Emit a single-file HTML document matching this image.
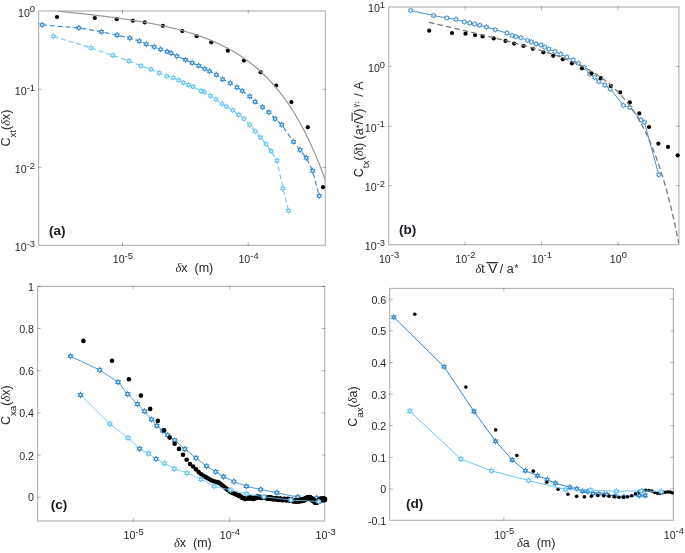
<!DOCTYPE html>
<html><head><meta charset="utf-8"><title>figure</title>
<style>html,body{margin:0;padding:0;background:#fff}svg{display:block}svg{will-change:transform}text{font-family:"Liberation Sans",sans-serif}</style>
</head><body>
<svg width="685" height="553" viewBox="0 0 685 553" font-family="Liberation Sans, sans-serif">
<rect width="685" height="553" fill="#fff"/>
<rect x="38.6" y="10.95" width="286.70" height="234.35" fill="none" stroke="#000" stroke-opacity="0.31" stroke-width="1.1"/>
<path d="M122.5 245.85000000000002 v-3.75M122.5 10.399999999999999 v3.75M248.2 245.85000000000002 v-3.75M248.2 10.399999999999999 v3.75M38.050000000000004 89.3 h3.75M325.85 89.3 h-3.75M38.050000000000004 167.4 h3.75M325.85 167.4 h-3.75" stroke="#000" stroke-opacity="0.27" stroke-width="1" fill="none"/>
<clipPath id="ca"><rect x="38.6" y="10.95" width="286.7" height="234.35000000000002"/></clipPath>
<path d="M53.40 36.40 L91.00 47.90 L112.90 55.40 L129.00 61.00 L140.90 65.80 L151.00 69.40 L159.10 72.80 L166.70 76.30 L173.10 77.70 L178.70 80.10 L183.40 82.70 L188.50 84.80 L193.00 86.70 L201.00 90.80 L204.20 92.00 L210.40 95.80 L215.90 99.40 L222.00 103.80 L226.40 106.40 L232.80 110.40 L238.70 114.70 L244.00 118.80 L249.70 124.70 L255.20 131.30 L260.50 137.50 L266.00 144.10 L271.00 151.00 L277.00 160.50 L282.90 188.30 L288.40 210.70" fill="none" stroke="#6cc6f2" stroke-width="1.1" stroke-dasharray="5 2.9" />
<path d="M42.00 24.90 L78.80 27.90 L101.40 31.70 L117.20 35.20 L129.80 38.10 L139.30 41.10 L146.30 44.20 L154.20 46.80 L160.60 49.40 L167.00 51.60 L171.10 53.10 L176.90 56.10 L185.40 59.80 L192.10 62.80 L198.70 65.70 L204.80 68.90 L209.50 71.10 L216.30 74.70 L222.60 79.30 L230.20 83.10 L236.90 87.30 L242.10 90.80 L249.70 96.30 L255.00 101.70 L262.50 107.10 L268.90 112.30 L275.10 118.80 L281.80 124.70 L293.40 141.70 L300.10 149.90 L306.30 157.80 L312.60 170.70 L319.10 195.80" fill="none" stroke="#3487c9" stroke-width="1.1" stroke-dasharray="5 2.9" />
<path d="M53.40 34.10 L54.05 35.27 L55.39 35.25 L54.70 36.40 L55.39 37.55 L54.05 37.53 L53.40 38.70 L52.75 37.53 L51.41 37.55 L52.10 36.40 L51.41 35.25 L52.75 35.27ZM91.00 45.60 L91.65 46.77 L92.99 46.75 L92.30 47.90 L92.99 49.05 L91.65 49.03 L91.00 50.20 L90.35 49.03 L89.01 49.05 L89.70 47.90 L89.01 46.75 L90.35 46.77ZM112.90 53.10 L113.55 54.27 L114.89 54.25 L114.20 55.40 L114.89 56.55 L113.55 56.53 L112.90 57.70 L112.25 56.53 L110.91 56.55 L111.60 55.40 L110.91 54.25 L112.25 54.27ZM129.00 58.70 L129.65 59.87 L130.99 59.85 L130.30 61.00 L130.99 62.15 L129.65 62.13 L129.00 63.30 L128.35 62.13 L127.01 62.15 L127.70 61.00 L127.01 59.85 L128.35 59.87ZM140.90 63.50 L141.55 64.67 L142.89 64.65 L142.20 65.80 L142.89 66.95 L141.55 66.93 L140.90 68.10 L140.25 66.93 L138.91 66.95 L139.60 65.80 L138.91 64.65 L140.25 64.67ZM151.00 67.10 L151.65 68.27 L152.99 68.25 L152.30 69.40 L152.99 70.55 L151.65 70.53 L151.00 71.70 L150.35 70.53 L149.01 70.55 L149.70 69.40 L149.01 68.25 L150.35 68.27ZM159.10 70.50 L159.75 71.67 L161.09 71.65 L160.40 72.80 L161.09 73.95 L159.75 73.93 L159.10 75.10 L158.45 73.93 L157.11 73.95 L157.80 72.80 L157.11 71.65 L158.45 71.67ZM166.70 74.00 L167.35 75.17 L168.69 75.15 L168.00 76.30 L168.69 77.45 L167.35 77.43 L166.70 78.60 L166.05 77.43 L164.71 77.45 L165.40 76.30 L164.71 75.15 L166.05 75.17ZM173.10 75.40 L173.75 76.57 L175.09 76.55 L174.40 77.70 L175.09 78.85 L173.75 78.83 L173.10 80.00 L172.45 78.83 L171.11 78.85 L171.80 77.70 L171.11 76.55 L172.45 76.57ZM178.70 77.80 L179.35 78.97 L180.69 78.95 L180.00 80.10 L180.69 81.25 L179.35 81.23 L178.70 82.40 L178.05 81.23 L176.71 81.25 L177.40 80.10 L176.71 78.95 L178.05 78.97ZM183.40 80.40 L184.05 81.57 L185.39 81.55 L184.70 82.70 L185.39 83.85 L184.05 83.83 L183.40 85.00 L182.75 83.83 L181.41 83.85 L182.10 82.70 L181.41 81.55 L182.75 81.57ZM188.50 82.50 L189.15 83.67 L190.49 83.65 L189.80 84.80 L190.49 85.95 L189.15 85.93 L188.50 87.10 L187.85 85.93 L186.51 85.95 L187.20 84.80 L186.51 83.65 L187.85 83.67ZM193.00 84.40 L193.65 85.57 L194.99 85.55 L194.30 86.70 L194.99 87.85 L193.65 87.83 L193.00 89.00 L192.35 87.83 L191.01 87.85 L191.70 86.70 L191.01 85.55 L192.35 85.57ZM201.00 88.50 L201.65 89.67 L202.99 89.65 L202.30 90.80 L202.99 91.95 L201.65 91.93 L201.00 93.10 L200.35 91.93 L199.01 91.95 L199.70 90.80 L199.01 89.65 L200.35 89.67ZM204.20 89.70 L204.85 90.87 L206.19 90.85 L205.50 92.00 L206.19 93.15 L204.85 93.13 L204.20 94.30 L203.55 93.13 L202.21 93.15 L202.90 92.00 L202.21 90.85 L203.55 90.87ZM210.40 93.50 L211.05 94.67 L212.39 94.65 L211.70 95.80 L212.39 96.95 L211.05 96.93 L210.40 98.10 L209.75 96.93 L208.41 96.95 L209.10 95.80 L208.41 94.65 L209.75 94.67ZM215.90 97.10 L216.55 98.27 L217.89 98.25 L217.20 99.40 L217.89 100.55 L216.55 100.53 L215.90 101.70 L215.25 100.53 L213.91 100.55 L214.60 99.40 L213.91 98.25 L215.25 98.27ZM222.00 101.50 L222.65 102.67 L223.99 102.65 L223.30 103.80 L223.99 104.95 L222.65 104.93 L222.00 106.10 L221.35 104.93 L220.01 104.95 L220.70 103.80 L220.01 102.65 L221.35 102.67ZM226.40 104.10 L227.05 105.27 L228.39 105.25 L227.70 106.40 L228.39 107.55 L227.05 107.53 L226.40 108.70 L225.75 107.53 L224.41 107.55 L225.10 106.40 L224.41 105.25 L225.75 105.27ZM232.80 108.10 L233.45 109.27 L234.79 109.25 L234.10 110.40 L234.79 111.55 L233.45 111.53 L232.80 112.70 L232.15 111.53 L230.81 111.55 L231.50 110.40 L230.81 109.25 L232.15 109.27ZM238.70 112.40 L239.35 113.57 L240.69 113.55 L240.00 114.70 L240.69 115.85 L239.35 115.83 L238.70 117.00 L238.05 115.83 L236.71 115.85 L237.40 114.70 L236.71 113.55 L238.05 113.57ZM244.00 116.50 L244.65 117.67 L245.99 117.65 L245.30 118.80 L245.99 119.95 L244.65 119.93 L244.00 121.10 L243.35 119.93 L242.01 119.95 L242.70 118.80 L242.01 117.65 L243.35 117.67ZM249.70 122.40 L250.35 123.57 L251.69 123.55 L251.00 124.70 L251.69 125.85 L250.35 125.83 L249.70 127.00 L249.05 125.83 L247.71 125.85 L248.40 124.70 L247.71 123.55 L249.05 123.57ZM255.20 129.00 L255.85 130.17 L257.19 130.15 L256.50 131.30 L257.19 132.45 L255.85 132.43 L255.20 133.60 L254.55 132.43 L253.21 132.45 L253.90 131.30 L253.21 130.15 L254.55 130.17ZM260.50 135.20 L261.15 136.37 L262.49 136.35 L261.80 137.50 L262.49 138.65 L261.15 138.63 L260.50 139.80 L259.85 138.63 L258.51 138.65 L259.20 137.50 L258.51 136.35 L259.85 136.37ZM266.00 141.80 L266.65 142.97 L267.99 142.95 L267.30 144.10 L267.99 145.25 L266.65 145.23 L266.00 146.40 L265.35 145.23 L264.01 145.25 L264.70 144.10 L264.01 142.95 L265.35 142.97ZM271.00 148.70 L271.65 149.87 L272.99 149.85 L272.30 151.00 L272.99 152.15 L271.65 152.13 L271.00 153.30 L270.35 152.13 L269.01 152.15 L269.70 151.00 L269.01 149.85 L270.35 149.87ZM277.00 158.20 L277.65 159.37 L278.99 159.35 L278.30 160.50 L278.99 161.65 L277.65 161.63 L277.00 162.80 L276.35 161.63 L275.01 161.65 L275.70 160.50 L275.01 159.35 L276.35 159.37ZM282.90 186.00 L283.55 187.17 L284.89 187.15 L284.20 188.30 L284.89 189.45 L283.55 189.43 L282.90 190.60 L282.25 189.43 L280.91 189.45 L281.60 188.30 L280.91 187.15 L282.25 187.17ZM288.40 208.40 L289.05 209.57 L290.39 209.55 L289.70 210.70 L290.39 211.85 L289.05 211.83 L288.40 213.00 L287.75 211.83 L286.41 211.85 L287.10 210.70 L286.41 209.55 L287.75 209.57Z" fill="#fff" stroke="#6cc6f2" stroke-width="1.05" stroke-linejoin="miter"/>
<path d="M42.00 22.60 L42.65 23.77 L43.99 23.75 L43.30 24.90 L43.99 26.05 L42.65 26.03 L42.00 27.20 L41.35 26.03 L40.01 26.05 L40.70 24.90 L40.01 23.75 L41.35 23.77ZM78.80 25.60 L79.45 26.77 L80.79 26.75 L80.10 27.90 L80.79 29.05 L79.45 29.03 L78.80 30.20 L78.15 29.03 L76.81 29.05 L77.50 27.90 L76.81 26.75 L78.15 26.77ZM101.40 29.40 L102.05 30.57 L103.39 30.55 L102.70 31.70 L103.39 32.85 L102.05 32.83 L101.40 34.00 L100.75 32.83 L99.41 32.85 L100.10 31.70 L99.41 30.55 L100.75 30.57ZM117.20 32.90 L117.85 34.07 L119.19 34.05 L118.50 35.20 L119.19 36.35 L117.85 36.33 L117.20 37.50 L116.55 36.33 L115.21 36.35 L115.90 35.20 L115.21 34.05 L116.55 34.07ZM129.80 35.80 L130.45 36.97 L131.79 36.95 L131.10 38.10 L131.79 39.25 L130.45 39.23 L129.80 40.40 L129.15 39.23 L127.81 39.25 L128.50 38.10 L127.81 36.95 L129.15 36.97ZM139.30 38.80 L139.95 39.97 L141.29 39.95 L140.60 41.10 L141.29 42.25 L139.95 42.23 L139.30 43.40 L138.65 42.23 L137.31 42.25 L138.00 41.10 L137.31 39.95 L138.65 39.97ZM146.30 41.90 L146.95 43.07 L148.29 43.05 L147.60 44.20 L148.29 45.35 L146.95 45.33 L146.30 46.50 L145.65 45.33 L144.31 45.35 L145.00 44.20 L144.31 43.05 L145.65 43.07ZM154.20 44.50 L154.85 45.67 L156.19 45.65 L155.50 46.80 L156.19 47.95 L154.85 47.93 L154.20 49.10 L153.55 47.93 L152.21 47.95 L152.90 46.80 L152.21 45.65 L153.55 45.67ZM160.60 47.10 L161.25 48.27 L162.59 48.25 L161.90 49.40 L162.59 50.55 L161.25 50.53 L160.60 51.70 L159.95 50.53 L158.61 50.55 L159.30 49.40 L158.61 48.25 L159.95 48.27ZM167.00 49.30 L167.65 50.47 L168.99 50.45 L168.30 51.60 L168.99 52.75 L167.65 52.73 L167.00 53.90 L166.35 52.73 L165.01 52.75 L165.70 51.60 L165.01 50.45 L166.35 50.47ZM171.10 50.80 L171.75 51.97 L173.09 51.95 L172.40 53.10 L173.09 54.25 L171.75 54.23 L171.10 55.40 L170.45 54.23 L169.11 54.25 L169.80 53.10 L169.11 51.95 L170.45 51.97ZM176.90 53.80 L177.55 54.97 L178.89 54.95 L178.20 56.10 L178.89 57.25 L177.55 57.23 L176.90 58.40 L176.25 57.23 L174.91 57.25 L175.60 56.10 L174.91 54.95 L176.25 54.97ZM185.40 57.50 L186.05 58.67 L187.39 58.65 L186.70 59.80 L187.39 60.95 L186.05 60.93 L185.40 62.10 L184.75 60.93 L183.41 60.95 L184.10 59.80 L183.41 58.65 L184.75 58.67ZM192.10 60.50 L192.75 61.67 L194.09 61.65 L193.40 62.80 L194.09 63.95 L192.75 63.93 L192.10 65.10 L191.45 63.93 L190.11 63.95 L190.80 62.80 L190.11 61.65 L191.45 61.67ZM198.70 63.40 L199.35 64.57 L200.69 64.55 L200.00 65.70 L200.69 66.85 L199.35 66.83 L198.70 68.00 L198.05 66.83 L196.71 66.85 L197.40 65.70 L196.71 64.55 L198.05 64.57ZM204.80 66.60 L205.45 67.77 L206.79 67.75 L206.10 68.90 L206.79 70.05 L205.45 70.03 L204.80 71.20 L204.15 70.03 L202.81 70.05 L203.50 68.90 L202.81 67.75 L204.15 67.77ZM209.50 68.80 L210.15 69.97 L211.49 69.95 L210.80 71.10 L211.49 72.25 L210.15 72.23 L209.50 73.40 L208.85 72.23 L207.51 72.25 L208.20 71.10 L207.51 69.95 L208.85 69.97ZM216.30 72.40 L216.95 73.57 L218.29 73.55 L217.60 74.70 L218.29 75.85 L216.95 75.83 L216.30 77.00 L215.65 75.83 L214.31 75.85 L215.00 74.70 L214.31 73.55 L215.65 73.57ZM222.60 77.00 L223.25 78.17 L224.59 78.15 L223.90 79.30 L224.59 80.45 L223.25 80.43 L222.60 81.60 L221.95 80.43 L220.61 80.45 L221.30 79.30 L220.61 78.15 L221.95 78.17ZM230.20 80.80 L230.85 81.97 L232.19 81.95 L231.50 83.10 L232.19 84.25 L230.85 84.23 L230.20 85.40 L229.55 84.23 L228.21 84.25 L228.90 83.10 L228.21 81.95 L229.55 81.97ZM236.90 85.00 L237.55 86.17 L238.89 86.15 L238.20 87.30 L238.89 88.45 L237.55 88.43 L236.90 89.60 L236.25 88.43 L234.91 88.45 L235.60 87.30 L234.91 86.15 L236.25 86.17ZM242.10 88.50 L242.75 89.67 L244.09 89.65 L243.40 90.80 L244.09 91.95 L242.75 91.93 L242.10 93.10 L241.45 91.93 L240.11 91.95 L240.80 90.80 L240.11 89.65 L241.45 89.67ZM249.70 94.00 L250.35 95.17 L251.69 95.15 L251.00 96.30 L251.69 97.45 L250.35 97.43 L249.70 98.60 L249.05 97.43 L247.71 97.45 L248.40 96.30 L247.71 95.15 L249.05 95.17ZM255.00 99.40 L255.65 100.57 L256.99 100.55 L256.30 101.70 L256.99 102.85 L255.65 102.83 L255.00 104.00 L254.35 102.83 L253.01 102.85 L253.70 101.70 L253.01 100.55 L254.35 100.57ZM262.50 104.80 L263.15 105.97 L264.49 105.95 L263.80 107.10 L264.49 108.25 L263.15 108.23 L262.50 109.40 L261.85 108.23 L260.51 108.25 L261.20 107.10 L260.51 105.95 L261.85 105.97ZM268.90 110.00 L269.55 111.17 L270.89 111.15 L270.20 112.30 L270.89 113.45 L269.55 113.43 L268.90 114.60 L268.25 113.43 L266.91 113.45 L267.60 112.30 L266.91 111.15 L268.25 111.17ZM275.10 116.50 L275.75 117.67 L277.09 117.65 L276.40 118.80 L277.09 119.95 L275.75 119.93 L275.10 121.10 L274.45 119.93 L273.11 119.95 L273.80 118.80 L273.11 117.65 L274.45 117.67ZM281.80 122.40 L282.45 123.57 L283.79 123.55 L283.10 124.70 L283.79 125.85 L282.45 125.83 L281.80 127.00 L281.15 125.83 L279.81 125.85 L280.50 124.70 L279.81 123.55 L281.15 123.57ZM293.40 139.40 L294.05 140.57 L295.39 140.55 L294.70 141.70 L295.39 142.85 L294.05 142.83 L293.40 144.00 L292.75 142.83 L291.41 142.85 L292.10 141.70 L291.41 140.55 L292.75 140.57ZM300.10 147.60 L300.75 148.77 L302.09 148.75 L301.40 149.90 L302.09 151.05 L300.75 151.03 L300.10 152.20 L299.45 151.03 L298.11 151.05 L298.80 149.90 L298.11 148.75 L299.45 148.77ZM306.30 155.50 L306.95 156.67 L308.29 156.65 L307.60 157.80 L308.29 158.95 L306.95 158.93 L306.30 160.10 L305.65 158.93 L304.31 158.95 L305.00 157.80 L304.31 156.65 L305.65 156.67ZM312.60 168.40 L313.25 169.57 L314.59 169.55 L313.90 170.70 L314.59 171.85 L313.25 171.83 L312.60 173.00 L311.95 171.83 L310.61 171.85 L311.30 170.70 L310.61 169.55 L311.95 169.57ZM319.10 193.50 L319.75 194.67 L321.09 194.65 L320.40 195.80 L321.09 196.95 L319.75 196.93 L319.10 198.10 L318.45 196.93 L317.11 196.95 L317.80 195.80 L317.11 194.65 L318.45 194.67Z" fill="#fff" stroke="#3487c9" stroke-width="1.05" stroke-linejoin="miter"/>
<circle cx="57.00" cy="17.00" r="2.1" fill="#000000"/>
<circle cx="94.80" cy="18.00" r="2.1" fill="#000000"/>
<circle cx="116.80" cy="19.20" r="2.1" fill="#000000"/>
<circle cx="132.80" cy="20.70" r="2.1" fill="#000000"/>
<circle cx="144.70" cy="22.40" r="2.1" fill="#000000"/>
<circle cx="162.90" cy="25.80" r="2.1" fill="#000000"/>
<circle cx="182.30" cy="31.10" r="2.1" fill="#000000"/>
<circle cx="196.60" cy="36.20" r="2.1" fill="#000000"/>
<circle cx="211.20" cy="42.30" r="2.1" fill="#000000"/>
<circle cx="227.80" cy="50.70" r="2.1" fill="#000000"/>
<circle cx="243.90" cy="60.60" r="2.1" fill="#000000"/>
<circle cx="260.60" cy="72.20" r="2.1" fill="#000000"/>
<circle cx="276.10" cy="85.50" r="2.1" fill="#000000"/>
<circle cx="291.40" cy="102.10" r="2.1" fill="#000000"/>
<circle cx="307.80" cy="127.20" r="2.1" fill="#000000"/>
<circle cx="323.00" cy="187.20" r="2.1" fill="#000000"/>
<path d="M58.00 11.21 L58.90 11.29 L59.79 11.38 L60.69 11.47 L61.59 11.56 L62.48 11.65 L63.38 11.74 L64.27 11.83 L65.17 11.92 L66.07 12.01 L66.96 12.10 L67.86 12.19 L68.76 12.28 L69.65 12.38 L70.55 12.47 L71.44 12.56 L72.34 12.65 L73.24 12.75 L74.13 12.84 L75.03 12.94 L75.93 13.03 L76.82 13.13 L77.72 13.22 L78.62 13.32 L79.51 13.42 L80.41 13.51 L81.30 13.61 L82.20 13.71 L83.10 13.81 L83.99 13.91 L84.89 14.00 L85.79 14.10 L86.68 14.20 L87.58 14.31 L88.47 14.41 L89.37 14.51 L90.27 14.61 L91.16 14.71 L92.06 14.82 L92.96 14.92 L93.85 15.03 L94.75 15.13 L95.65 15.24 L96.54 15.34 L97.44 15.45 L98.33 15.56 L99.23 15.67 L100.13 15.78 L101.02 15.89 L101.92 16.00 L102.82 16.11 L103.71 16.22 L104.61 16.33 L105.51 16.44 L106.40 16.56 L107.30 16.67 L108.19 16.79 L109.09 16.90 L109.99 17.02 L110.88 17.14 L111.78 17.26 L112.68 17.38 L113.57 17.49 L114.47 17.62 L115.36 17.74 L116.26 17.86 L117.16 17.98 L118.05 18.11 L118.95 18.23 L119.85 18.36 L120.74 18.49 L121.64 18.61 L122.54 18.74 L123.43 18.87 L124.33 19.00 L125.22 19.14 L126.12 19.27 L127.02 19.40 L127.91 19.54 L128.81 19.67 L129.71 19.81 L130.60 19.95 L131.50 20.09 L132.39 20.23 L133.29 20.37 L134.19 20.51 L135.08 20.66 L135.98 20.80 L136.88 20.95 L137.77 21.10 L138.67 21.25 L139.57 21.40 L140.46 21.55 L141.36 21.70 L142.25 21.86 L143.15 22.01 L144.05 22.17 L144.94 22.33 L145.84 22.49 L146.74 22.65 L147.63 22.82 L148.53 22.98 L149.42 23.15 L150.32 23.32 L151.22 23.49 L152.11 23.66 L153.01 23.83 L153.91 24.01 L154.80 24.18 L155.70 24.36 L156.60 24.54 L157.49 24.72 L158.39 24.91 L159.28 25.09 L160.18 25.28 L161.08 25.47 L161.97 25.66 L162.87 25.86 L163.77 26.05 L164.66 26.25 L165.56 26.45 L166.45 26.65 L167.35 26.86 L168.25 27.06 L169.14 27.27 L170.04 27.48 L170.94 27.70 L171.83 27.91 L172.73 28.13 L173.63 28.35 L174.52 28.58 L175.42 28.80 L176.31 29.03 L177.21 29.26 L178.11 29.50 L179.00 29.73 L179.90 29.97 L180.80 30.21 L181.69 30.46 L182.59 30.71 L183.48 30.96 L184.38 31.21 L185.28 31.47 L186.17 31.73 L187.07 31.99 L187.97 32.26 L188.86 32.53 L189.76 32.80 L190.66 33.08 L191.55 33.35 L192.45 33.64 L193.34 33.92 L194.24 34.21 L195.14 34.51 L196.03 34.81 L196.93 35.11 L197.83 35.41 L198.72 35.72 L199.62 36.03 L200.52 36.35 L201.41 36.67 L202.31 37.00 L203.20 37.33 L204.10 37.66 L205.00 38.00 L205.89 38.34 L206.79 38.69 L207.69 39.04 L208.58 39.40 L209.48 39.76 L210.37 40.13 L211.27 40.50 L212.17 40.87 L213.06 41.25 L213.96 41.64 L214.86 42.03 L215.75 42.43 L216.65 42.83 L217.55 43.24 L218.44 43.65 L219.34 44.07 L220.23 44.49 L221.13 44.92 L222.03 45.36 L222.92 45.80 L223.82 46.25 L224.72 46.71 L225.61 47.17 L226.51 47.64 L227.40 48.11 L228.30 48.59 L229.20 49.08 L230.09 49.58 L230.99 50.08 L231.89 50.59 L232.78 51.10 L233.68 51.63 L234.58 52.16 L235.47 52.70 L236.37 53.25 L237.26 53.80 L238.16 54.36 L239.06 54.93 L239.95 55.51 L240.85 56.10 L241.75 56.70 L242.64 57.30 L243.54 57.92 L244.43 58.54 L245.33 59.17 L246.23 59.81 L247.12 60.46 L248.02 61.12 L248.92 61.79 L249.81 62.47 L250.71 63.16 L251.61 63.86 L252.50 64.58 L253.40 65.30 L254.29 66.03 L255.19 66.77 L256.09 67.53 L256.98 68.29 L257.88 69.07 L258.78 69.86 L259.67 70.66 L260.57 71.47 L261.46 72.30 L262.36 73.14 L263.26 73.99 L264.15 74.85 L265.05 75.73 L265.95 76.62 L266.84 77.52 L267.74 78.44 L268.64 79.37 L269.53 80.32 L270.43 81.28 L271.32 82.25 L272.22 83.24 L273.12 84.25 L274.01 85.27 L274.91 86.30 L275.81 87.36 L276.70 88.43 L277.60 89.51 L278.49 90.61 L279.39 91.73 L280.29 92.87 L281.18 94.02 L282.08 95.19 L282.98 96.38 L283.87 97.59 L284.77 98.82 L285.67 100.07 L286.56 101.34 L287.46 102.62 L288.35 103.93 L289.25 105.25 L290.15 106.60 L291.04 107.97 L291.94 109.36 L292.84 110.77 L293.73 112.21 L294.63 113.67 L295.53 115.15 L296.42 116.65 L297.32 118.18 L298.21 119.73 L299.11 121.30 L300.01 122.90 L300.90 124.53 L301.80 126.18 L302.70 127.86 L303.59 129.57 L304.49 131.30 L305.38 133.06 L306.28 134.84 L307.18 136.66 L308.07 138.50 L308.97 140.38 L309.87 142.28 L310.76 144.22 L311.66 146.18 L312.56 148.18 L313.45 150.21 L314.35 152.27 L315.24 154.36 L316.14 156.49 L317.04 158.65 L317.93 160.84 L318.83 163.08 L319.73 165.34 L320.62 167.65 L321.52 169.99 L322.41 172.36 L323.31 174.78 L324.21 177.24 L325.10 179.73 L326.00 182.26" fill="none" stroke="#989898" stroke-width="1.2" clip-path="url(#ca)"/>
<text x="35.0" y="16.50" text-anchor="end" font-size="10.67" fill="#282828">10<tspan dy="-4.3" font-size="9.3">0</tspan></text>
<text x="35.0" y="94.80" text-anchor="end" font-size="10.67" fill="#282828">10<tspan dy="-4.3" font-size="9.3">-1</tspan></text>
<text x="35.0" y="172.90" text-anchor="end" font-size="10.67" fill="#282828">10<tspan dy="-4.3" font-size="9.3">-2</tspan></text>
<text x="35.0" y="251.10" text-anchor="end" font-size="10.67" fill="#282828">10<tspan dy="-4.3" font-size="9.3">-3</tspan></text>
<text x="122.8" y="263.20" text-anchor="middle" font-size="10.67" fill="#282828">10<tspan dy="-4.3" font-size="9.3">-5</tspan></text>
<text x="248.5" y="263.20" text-anchor="middle" font-size="10.67" fill="#282828">10<tspan dy="-4.3" font-size="9.3">-4</tspan></text>
<rect x="388.7" y="7.0" width="290.20" height="237.70" fill="none" stroke="#000" stroke-opacity="0.31" stroke-width="1.1"/>
<path d="M465.1 245.25 v-3.75M465.1 6.45 v3.75M541.5 245.25 v-3.75M541.5 6.45 v3.75M618 245.25 v-3.75M618 6.45 v3.75M388.15 66.4 h3.75M679.4499999999999 66.4 h-3.75M388.15 126.2 h3.75M679.4499999999999 126.2 h-3.75M388.15 185.7 h3.75M679.4499999999999 185.7 h-3.75" stroke="#000" stroke-opacity="0.27" stroke-width="1" fill="none"/>
<path d="M410.60 10.50 L433.50 15.50 L446.80 18.00 L456.00 19.40 L464.30 21.90 L469.80 23.10 L474.70 24.10 L479.80 25.30 L486.40 27.10 L495.40 29.70 L507.00 33.10 L512.20 35.50 L515.80 36.60 L520.80 37.70 L527.50 40.40 L531.30 41.80 L536.00 43.90 L541.00 45.00 L544.70 47.10 L548.80 49.10 L554.90 51.60 L560.80 54.20 L566.80 57.10 L573.10 60.10 L578.60 63.40 L584.20 67.40 L589.70 73.90 L594.70 77.40 L598.80 81.50 L604.90 85.00 L610.10 88.80 L623.40 105.40 L629.80 107.40 L641.00 120.00 L644.40 122.30 L658.80 174.70" fill="none" stroke="#3487c9" stroke-width="0.9" />
<path d="M410.60 7.90 L411.30 9.29 L412.85 9.20 L412.00 10.50 L412.85 11.80 L411.30 11.71 L410.60 13.10 L409.90 11.71 L408.35 11.80 L409.20 10.50 L408.35 9.20 L409.90 9.29ZM433.50 12.90 L434.20 14.29 L435.75 14.20 L434.90 15.50 L435.75 16.80 L434.20 16.71 L433.50 18.10 L432.80 16.71 L431.25 16.80 L432.10 15.50 L431.25 14.20 L432.80 14.29ZM446.80 15.40 L447.50 16.79 L449.05 16.70 L448.20 18.00 L449.05 19.30 L447.50 19.21 L446.80 20.60 L446.10 19.21 L444.55 19.30 L445.40 18.00 L444.55 16.70 L446.10 16.79ZM456.00 16.80 L456.70 18.19 L458.25 18.10 L457.40 19.40 L458.25 20.70 L456.70 20.61 L456.00 22.00 L455.30 20.61 L453.75 20.70 L454.60 19.40 L453.75 18.10 L455.30 18.19ZM464.30 19.30 L465.00 20.69 L466.55 20.60 L465.70 21.90 L466.55 23.20 L465.00 23.11 L464.30 24.50 L463.60 23.11 L462.05 23.20 L462.90 21.90 L462.05 20.60 L463.60 20.69ZM469.80 20.50 L470.50 21.89 L472.05 21.80 L471.20 23.10 L472.05 24.40 L470.50 24.31 L469.80 25.70 L469.10 24.31 L467.55 24.40 L468.40 23.10 L467.55 21.80 L469.10 21.89ZM474.70 21.50 L475.40 22.89 L476.95 22.80 L476.10 24.10 L476.95 25.40 L475.40 25.31 L474.70 26.70 L474.00 25.31 L472.45 25.40 L473.30 24.10 L472.45 22.80 L474.00 22.89ZM479.80 22.70 L480.50 24.09 L482.05 24.00 L481.20 25.30 L482.05 26.60 L480.50 26.51 L479.80 27.90 L479.10 26.51 L477.55 26.60 L478.40 25.30 L477.55 24.00 L479.10 24.09ZM486.40 24.50 L487.10 25.89 L488.65 25.80 L487.80 27.10 L488.65 28.40 L487.10 28.31 L486.40 29.70 L485.70 28.31 L484.15 28.40 L485.00 27.10 L484.15 25.80 L485.70 25.89ZM495.40 27.10 L496.10 28.49 L497.65 28.40 L496.80 29.70 L497.65 31.00 L496.10 30.91 L495.40 32.30 L494.70 30.91 L493.15 31.00 L494.00 29.70 L493.15 28.40 L494.70 28.49ZM507.00 30.50 L507.70 31.89 L509.25 31.80 L508.40 33.10 L509.25 34.40 L507.70 34.31 L507.00 35.70 L506.30 34.31 L504.75 34.40 L505.60 33.10 L504.75 31.80 L506.30 31.89ZM512.20 32.90 L512.90 34.29 L514.45 34.20 L513.60 35.50 L514.45 36.80 L512.90 36.71 L512.20 38.10 L511.50 36.71 L509.95 36.80 L510.80 35.50 L509.95 34.20 L511.50 34.29ZM515.80 34.00 L516.50 35.39 L518.05 35.30 L517.20 36.60 L518.05 37.90 L516.50 37.81 L515.80 39.20 L515.10 37.81 L513.55 37.90 L514.40 36.60 L513.55 35.30 L515.10 35.39ZM520.80 35.10 L521.50 36.49 L523.05 36.40 L522.20 37.70 L523.05 39.00 L521.50 38.91 L520.80 40.30 L520.10 38.91 L518.55 39.00 L519.40 37.70 L518.55 36.40 L520.10 36.49ZM527.50 37.80 L528.20 39.19 L529.75 39.10 L528.90 40.40 L529.75 41.70 L528.20 41.61 L527.50 43.00 L526.80 41.61 L525.25 41.70 L526.10 40.40 L525.25 39.10 L526.80 39.19ZM531.30 39.20 L532.00 40.59 L533.55 40.50 L532.70 41.80 L533.55 43.10 L532.00 43.01 L531.30 44.40 L530.60 43.01 L529.05 43.10 L529.90 41.80 L529.05 40.50 L530.60 40.59ZM536.00 41.30 L536.70 42.69 L538.25 42.60 L537.40 43.90 L538.25 45.20 L536.70 45.11 L536.00 46.50 L535.30 45.11 L533.75 45.20 L534.60 43.90 L533.75 42.60 L535.30 42.69ZM541.00 42.40 L541.70 43.79 L543.25 43.70 L542.40 45.00 L543.25 46.30 L541.70 46.21 L541.00 47.60 L540.30 46.21 L538.75 46.30 L539.60 45.00 L538.75 43.70 L540.30 43.79ZM544.70 44.50 L545.40 45.89 L546.95 45.80 L546.10 47.10 L546.95 48.40 L545.40 48.31 L544.70 49.70 L544.00 48.31 L542.45 48.40 L543.30 47.10 L542.45 45.80 L544.00 45.89ZM548.80 46.50 L549.50 47.89 L551.05 47.80 L550.20 49.10 L551.05 50.40 L549.50 50.31 L548.80 51.70 L548.10 50.31 L546.55 50.40 L547.40 49.10 L546.55 47.80 L548.10 47.89ZM554.90 49.00 L555.60 50.39 L557.15 50.30 L556.30 51.60 L557.15 52.90 L555.60 52.81 L554.90 54.20 L554.20 52.81 L552.65 52.90 L553.50 51.60 L552.65 50.30 L554.20 50.39ZM560.80 51.60 L561.50 52.99 L563.05 52.90 L562.20 54.20 L563.05 55.50 L561.50 55.41 L560.80 56.80 L560.10 55.41 L558.55 55.50 L559.40 54.20 L558.55 52.90 L560.10 52.99ZM566.80 54.50 L567.50 55.89 L569.05 55.80 L568.20 57.10 L569.05 58.40 L567.50 58.31 L566.80 59.70 L566.10 58.31 L564.55 58.40 L565.40 57.10 L564.55 55.80 L566.10 55.89ZM573.10 57.50 L573.80 58.89 L575.35 58.80 L574.50 60.10 L575.35 61.40 L573.80 61.31 L573.10 62.70 L572.40 61.31 L570.85 61.40 L571.70 60.10 L570.85 58.80 L572.40 58.89ZM578.60 60.80 L579.30 62.19 L580.85 62.10 L580.00 63.40 L580.85 64.70 L579.30 64.61 L578.60 66.00 L577.90 64.61 L576.35 64.70 L577.20 63.40 L576.35 62.10 L577.90 62.19ZM584.20 64.80 L584.90 66.19 L586.45 66.10 L585.60 67.40 L586.45 68.70 L584.90 68.61 L584.20 70.00 L583.50 68.61 L581.95 68.70 L582.80 67.40 L581.95 66.10 L583.50 66.19ZM589.70 71.30 L590.40 72.69 L591.95 72.60 L591.10 73.90 L591.95 75.20 L590.40 75.11 L589.70 76.50 L589.00 75.11 L587.45 75.20 L588.30 73.90 L587.45 72.60 L589.00 72.69ZM594.70 74.80 L595.40 76.19 L596.95 76.10 L596.10 77.40 L596.95 78.70 L595.40 78.61 L594.70 80.00 L594.00 78.61 L592.45 78.70 L593.30 77.40 L592.45 76.10 L594.00 76.19ZM598.80 78.90 L599.50 80.29 L601.05 80.20 L600.20 81.50 L601.05 82.80 L599.50 82.71 L598.80 84.10 L598.10 82.71 L596.55 82.80 L597.40 81.50 L596.55 80.20 L598.10 80.29ZM604.90 82.40 L605.60 83.79 L607.15 83.70 L606.30 85.00 L607.15 86.30 L605.60 86.21 L604.90 87.60 L604.20 86.21 L602.65 86.30 L603.50 85.00 L602.65 83.70 L604.20 83.79ZM610.10 86.20 L610.80 87.59 L612.35 87.50 L611.50 88.80 L612.35 90.10 L610.80 90.01 L610.10 91.40 L609.40 90.01 L607.85 90.10 L608.70 88.80 L607.85 87.50 L609.40 87.59ZM623.40 102.80 L624.10 104.19 L625.65 104.10 L624.80 105.40 L625.65 106.70 L624.10 106.61 L623.40 108.00 L622.70 106.61 L621.15 106.70 L622.00 105.40 L621.15 104.10 L622.70 104.19ZM629.80 104.80 L630.50 106.19 L632.05 106.10 L631.20 107.40 L632.05 108.70 L630.50 108.61 L629.80 110.00 L629.10 108.61 L627.55 108.70 L628.40 107.40 L627.55 106.10 L629.10 106.19ZM641.00 117.40 L641.70 118.79 L643.25 118.70 L642.40 120.00 L643.25 121.30 L641.70 121.21 L641.00 122.60 L640.30 121.21 L638.75 121.30 L639.60 120.00 L638.75 118.70 L640.30 118.79ZM644.40 119.70 L645.10 121.09 L646.65 121.00 L645.80 122.30 L646.65 123.60 L645.10 123.51 L644.40 124.90 L643.70 123.51 L642.15 123.60 L643.00 122.30 L642.15 121.00 L643.70 121.09ZM658.80 172.10 L659.50 173.49 L661.05 173.40 L660.20 174.70 L661.05 176.00 L659.50 175.91 L658.80 177.30 L658.10 175.91 L656.55 176.00 L657.40 174.70 L656.55 173.40 L658.10 173.49Z" fill="#fff" stroke="#3487c9" stroke-width="0.9" stroke-linejoin="miter"/>
<circle cx="429.20" cy="30.70" r="2.1" fill="#000000"/>
<circle cx="452.00" cy="33.10" r="2.1" fill="#000000"/>
<circle cx="465.50" cy="33.70" r="2.1" fill="#000000"/>
<circle cx="475.10" cy="35.10" r="2.1" fill="#000000"/>
<circle cx="482.60" cy="36.40" r="2.1" fill="#000000"/>
<circle cx="493.70" cy="38.40" r="2.1" fill="#000000"/>
<circle cx="505.50" cy="40.90" r="2.1" fill="#000000"/>
<circle cx="514.10" cy="43.60" r="2.1" fill="#000000"/>
<circle cx="523.40" cy="45.90" r="2.1" fill="#000000"/>
<circle cx="532.80" cy="48.80" r="2.1" fill="#000000"/>
<circle cx="543.30" cy="52.30" r="2.1" fill="#000000"/>
<circle cx="553.20" cy="55.80" r="2.1" fill="#000000"/>
<circle cx="562.70" cy="59.30" r="2.1" fill="#000000"/>
<circle cx="571.90" cy="63.40" r="2.1" fill="#000000"/>
<circle cx="581.90" cy="68.30" r="2.1" fill="#000000"/>
<circle cx="591.50" cy="73.30" r="2.1" fill="#000000"/>
<circle cx="600.80" cy="78.20" r="2.1" fill="#000000"/>
<circle cx="610.80" cy="85.80" r="2.1" fill="#000000"/>
<circle cx="620.10" cy="92.40" r="2.1" fill="#000000"/>
<circle cx="629.80" cy="102.40" r="2.1" fill="#000000"/>
<circle cx="639.30" cy="113.40" r="2.1" fill="#000000"/>
<circle cx="649.00" cy="127.00" r="2.1" fill="#000000"/>
<circle cx="658.40" cy="143.70" r="2.1" fill="#000000"/>
<circle cx="668.00" cy="146.90" r="2.1" fill="#000000"/>
<circle cx="677.70" cy="155.30" r="2.1" fill="#000000"/>
<path d="M428.90 22.34 L429.74 22.54 L430.57 22.73 L431.41 22.92 L432.24 23.12 L433.08 23.31 L433.91 23.50 L434.75 23.70 L435.58 23.89 L436.42 24.09 L437.25 24.28 L438.09 24.47 L438.92 24.67 L439.76 24.86 L440.59 25.06 L441.43 25.25 L442.26 25.45 L443.10 25.64 L443.93 25.84 L444.77 26.03 L445.60 26.23 L446.44 26.42 L447.27 26.62 L448.11 26.81 L448.94 27.01 L449.78 27.20 L450.61 27.40 L451.45 27.59 L452.28 27.79 L453.12 27.98 L453.95 28.18 L454.79 28.38 L455.62 28.57 L456.46 28.77 L457.29 28.96 L458.13 29.16 L458.96 29.36 L459.80 29.55 L460.63 29.75 L461.47 29.95 L462.30 30.15 L463.14 30.34 L463.97 30.54 L464.81 30.74 L465.65 30.94 L466.48 31.13 L467.32 31.33 L468.15 31.53 L468.99 31.73 L469.82 31.93 L470.66 32.13 L471.49 32.33 L472.33 32.53 L473.16 32.73 L474.00 32.93 L474.83 33.13 L475.67 33.33 L476.50 33.53 L477.34 33.73 L478.17 33.93 L479.01 34.13 L479.84 34.33 L480.68 34.53 L481.51 34.73 L482.35 34.94 L483.18 35.14 L484.02 35.34 L484.85 35.55 L485.69 35.75 L486.52 35.95 L487.36 36.16 L488.19 36.36 L489.03 36.57 L489.86 36.77 L490.70 36.98 L491.53 37.18 L492.37 37.39 L493.20 37.59 L494.04 37.80 L494.87 38.01 L495.71 38.22 L496.54 38.42 L497.38 38.63 L498.21 38.84 L499.05 39.05 L499.88 39.26 L500.72 39.47 L501.56 39.68 L502.39 39.89 L503.23 40.11 L504.06 40.32 L504.90 40.53 L505.73 40.74 L506.57 40.96 L507.40 41.17 L508.24 41.39 L509.07 41.60 L509.91 41.82 L510.74 42.04 L511.58 42.26 L512.41 42.47 L513.25 42.69 L514.08 42.91 L514.92 43.13 L515.75 43.36 L516.59 43.58 L517.42 43.80 L518.26 44.02 L519.09 44.25 L519.93 44.47 L520.76 44.70 L521.60 44.93 L522.43 45.16 L523.27 45.38 L524.10 45.61 L524.94 45.84 L525.77 46.08 L526.61 46.31 L527.44 46.54 L528.28 46.78 L529.11 47.02 L529.95 47.25 L530.78 47.49 L531.62 47.73 L532.45 47.97 L533.29 48.21 L534.12 48.46 L534.96 48.70 L535.79 48.95 L536.63 49.20 L537.47 49.45 L538.30 49.70 L539.14 49.95 L539.97 50.20 L540.81 50.46 L541.64 50.71 L542.48 50.97 L543.31 51.23 L544.15 51.49 L544.98 51.76 L545.82 52.02 L546.65 52.29 L547.49 52.56 L548.32 52.83 L549.16 53.11 L549.99 53.38 L550.83 53.66 L551.66 53.94 L552.50 54.22 L553.33 54.51 L554.17 54.79 L555.00 55.08 L555.84 55.37 L556.67 55.67 L557.51 55.96 L558.34 56.26 L559.18 56.57 L560.01 56.87 L560.85 57.18 L561.68 57.49 L562.52 57.81 L563.35 58.12 L564.19 58.44 L565.02 58.77 L565.86 59.09 L566.69 59.43 L567.53 59.76 L568.36 60.10 L569.20 60.44 L570.03 60.78 L570.87 61.13 L571.71 61.49 L572.54 61.85 L573.38 62.21 L574.21 62.57 L575.05 62.94 L575.88 63.32 L576.72 63.70 L577.55 64.08 L578.39 64.47 L579.22 64.87 L580.06 65.27 L580.89 65.67 L581.73 66.08 L582.56 66.50 L583.40 66.92 L584.23 67.35 L585.07 67.78 L585.90 68.22 L586.74 68.67 L587.57 69.12 L588.41 69.58 L589.24 70.05 L590.08 70.52 L590.91 71.00 L591.75 71.49 L592.58 71.98 L593.42 72.49 L594.25 73.00 L595.09 73.52 L595.92 74.04 L596.76 74.58 L597.59 75.13 L598.43 75.68 L599.26 76.24 L600.10 76.82 L600.93 77.40 L601.77 77.99 L602.60 78.59 L603.44 79.21 L604.27 79.83 L605.11 80.46 L605.94 81.11 L606.78 81.77 L607.62 82.44 L608.45 83.12 L609.29 83.81 L610.12 84.52 L610.96 85.24 L611.79 85.97 L612.63 86.72 L613.46 87.48 L614.30 88.26 L615.13 89.05 L615.97 89.86 L616.80 90.68 L617.64 91.52 L618.47 92.37 L619.31 93.24 L620.14 94.13 L620.98 95.04 L621.81 95.96 L622.65 96.91 L623.48 97.87 L624.32 98.85 L625.15 99.85 L625.99 100.88 L626.82 101.92 L627.66 102.99 L628.49 104.07 L629.33 105.18 L630.16 106.32 L631.00 107.48 L631.83 108.66 L632.67 109.87 L633.50 111.10 L634.34 112.36 L635.17 113.65 L636.01 114.97 L636.84 116.31 L637.68 117.69 L638.51 119.09 L639.35 120.53 L640.18 121.99 L641.02 123.49 L641.85 125.02 L642.69 126.59 L643.53 128.19 L644.36 129.83 L645.20 131.51 L646.03 133.22 L646.87 134.97 L647.70 136.76 L648.54 138.59 L649.37 140.46 L650.21 142.38 L651.04 144.34 L651.88 146.35 L652.71 148.40 L653.55 150.50 L654.38 152.64 L655.22 154.84 L656.05 157.09 L656.89 159.39 L657.72 161.74 L658.56 164.15 L659.39 166.62 L660.23 169.14 L661.06 171.73 L661.90 174.37 L662.73 177.08 L663.57 179.85 L664.40 182.68 L665.24 185.59 L666.07 188.56 L666.91 191.61 L667.74 194.72 L668.58 197.91 L669.41 201.18 L670.25 204.53 L671.08 207.95 L671.92 211.46 L672.75 215.05 L673.59 218.73 L674.42 222.50 L675.26 226.36 L676.09 230.31 L676.93 234.36 L677.76 238.51 L678.60 242.76" fill="none" stroke="#787878" stroke-width="1.3" stroke-dasharray="5.5 3.2" />
<text x="385.0" y="12.40" text-anchor="end" font-size="10.67" fill="#282828">10<tspan dy="-4.3" font-size="9.3">1</tspan></text>
<text x="385.0" y="71.90" text-anchor="end" font-size="10.67" fill="#282828">10<tspan dy="-4.3" font-size="9.3">0</tspan></text>
<text x="385.0" y="131.70" text-anchor="end" font-size="10.67" fill="#282828">10<tspan dy="-4.3" font-size="9.3">-1</tspan></text>
<text x="385.0" y="191.20" text-anchor="end" font-size="10.67" fill="#282828">10<tspan dy="-4.3" font-size="9.3">-2</tspan></text>
<text x="385.0" y="249.90" text-anchor="end" font-size="10.67" fill="#282828">10<tspan dy="-4.3" font-size="9.3">-3</tspan></text>
<text x="389.0" y="262.70" text-anchor="middle" font-size="10.67" fill="#282828">10<tspan dy="-4.3" font-size="9.3">-3</tspan></text>
<text x="465.40000000000003" y="262.70" text-anchor="middle" font-size="10.67" fill="#282828">10<tspan dy="-4.3" font-size="9.3">-2</tspan></text>
<text x="541.8" y="262.70" text-anchor="middle" font-size="10.67" fill="#282828">10<tspan dy="-4.3" font-size="9.3">-1</tspan></text>
<text x="618.3" y="262.70" text-anchor="middle" font-size="10.67" fill="#282828">10<tspan dy="-4.3" font-size="9.3">0</tspan></text>
<rect x="37.6" y="286.4" width="287.10" height="234.60" fill="none" stroke="#000" stroke-opacity="0.31" stroke-width="1.1"/>
<path d="M133.3 521.55 v-3.75M133.3 285.84999999999997 v3.75M229.6 521.55 v-3.75M229.6 285.84999999999997 v3.75M37.050000000000004 286.4 h3.75M325.25 286.4 h-3.75M37.050000000000004 328.5 h3.75M325.25 328.5 h-3.75M37.050000000000004 370.7 h3.75M325.25 370.7 h-3.75M37.050000000000004 412.9 h3.75M325.25 412.9 h-3.75M37.050000000000004 455.1 h3.75M325.25 455.1 h-3.75M37.050000000000004 497.3 h3.75M325.25 497.3 h-3.75" stroke="#000" stroke-opacity="0.27" stroke-width="1" fill="none"/>
<path d="M70.50 356.30 L99.70 370.00 L118.10 382.10 L127.70 394.10 L137.50 404.10 L144.50 411.30 L151.60 419.40 L156.90 425.70 L162.70 430.70 L167.70 435.20 L174.70 440.20 L184.90 449.10 L196.00 458.00 L206.60 466.20 L215.70 471.80 L223.50 476.60 L233.80 481.50 L246.40 486.30 L260.70 489.50 L276.90 492.70 L297.70 497.10 L316.70 498.00 L320.20 500.80" fill="none" stroke="#3487c9" stroke-width="0.85" />
<path d="M70.50 353.85 L71.20 355.09 L72.62 355.07 L71.90 356.30 L72.62 357.53 L71.20 357.51 L70.50 358.75 L69.80 357.51 L68.38 357.53 L69.10 356.30 L68.38 355.07 L69.80 355.09ZM99.70 367.55 L100.40 368.79 L101.82 368.77 L101.10 370.00 L101.82 371.23 L100.40 371.21 L99.70 372.45 L99.00 371.21 L97.58 371.23 L98.30 370.00 L97.58 368.77 L99.00 368.79ZM118.10 379.65 L118.80 380.89 L120.22 380.88 L119.50 382.10 L120.22 383.33 L118.80 383.31 L118.10 384.55 L117.40 383.31 L115.98 383.33 L116.70 382.10 L115.98 380.88 L117.40 380.89ZM127.70 391.65 L128.40 392.89 L129.82 392.88 L129.10 394.10 L129.82 395.33 L128.40 395.31 L127.70 396.55 L127.00 395.31 L125.58 395.33 L126.30 394.10 L125.58 392.88 L127.00 392.89ZM137.50 401.65 L138.20 402.89 L139.62 402.88 L138.90 404.10 L139.62 405.33 L138.20 405.31 L137.50 406.55 L136.80 405.31 L135.38 405.33 L136.10 404.10 L135.38 402.88 L136.80 402.89ZM144.50 408.85 L145.20 410.09 L146.62 410.07 L145.90 411.30 L146.62 412.53 L145.20 412.51 L144.50 413.75 L143.80 412.51 L142.38 412.53 L143.10 411.30 L142.38 410.07 L143.80 410.09ZM151.60 416.95 L152.30 418.19 L153.72 418.17 L153.00 419.40 L153.72 420.62 L152.30 420.61 L151.60 421.85 L150.90 420.61 L149.48 420.62 L150.20 419.40 L149.48 418.17 L150.90 418.19ZM156.90 423.25 L157.60 424.49 L159.02 424.47 L158.30 425.70 L159.02 426.93 L157.60 426.91 L156.90 428.15 L156.20 426.91 L154.78 426.93 L155.50 425.70 L154.78 424.47 L156.20 424.49ZM162.70 428.25 L163.40 429.49 L164.82 429.47 L164.10 430.70 L164.82 431.93 L163.40 431.91 L162.70 433.15 L162.00 431.91 L160.58 431.93 L161.30 430.70 L160.58 429.47 L162.00 429.49ZM167.70 432.75 L168.40 433.99 L169.82 433.97 L169.10 435.20 L169.82 436.43 L168.40 436.41 L167.70 437.65 L167.00 436.41 L165.58 436.43 L166.30 435.20 L165.58 433.97 L167.00 433.99ZM174.70 437.75 L175.40 438.99 L176.82 438.97 L176.10 440.20 L176.82 441.43 L175.40 441.41 L174.70 442.65 L174.00 441.41 L172.58 441.43 L173.30 440.20 L172.58 438.97 L174.00 438.99ZM184.90 446.65 L185.60 447.89 L187.02 447.88 L186.30 449.10 L187.02 450.33 L185.60 450.31 L184.90 451.55 L184.20 450.31 L182.78 450.33 L183.50 449.10 L182.78 447.88 L184.20 447.89ZM196.00 455.55 L196.70 456.79 L198.12 456.77 L197.40 458.00 L198.12 459.23 L196.70 459.21 L196.00 460.45 L195.30 459.21 L193.88 459.23 L194.60 458.00 L193.88 456.77 L195.30 456.79ZM206.60 463.75 L207.30 464.99 L208.72 464.97 L208.00 466.20 L208.72 467.43 L207.30 467.41 L206.60 468.65 L205.90 467.41 L204.48 467.43 L205.20 466.20 L204.48 464.97 L205.90 464.99ZM215.70 469.35 L216.40 470.59 L217.82 470.57 L217.10 471.80 L217.82 473.03 L216.40 473.01 L215.70 474.25 L215.00 473.01 L213.58 473.03 L214.30 471.80 L213.58 470.57 L215.00 470.59ZM223.50 474.15 L224.20 475.39 L225.62 475.38 L224.90 476.60 L225.62 477.83 L224.20 477.81 L223.50 479.05 L222.80 477.81 L221.38 477.83 L222.10 476.60 L221.38 475.38 L222.80 475.39ZM233.80 479.05 L234.50 480.29 L235.92 480.27 L235.20 481.50 L235.92 482.73 L234.50 482.71 L233.80 483.95 L233.10 482.71 L231.68 482.73 L232.40 481.50 L231.68 480.27 L233.10 480.29ZM246.40 483.85 L247.10 485.09 L248.52 485.07 L247.80 486.30 L248.52 487.53 L247.10 487.51 L246.40 488.75 L245.70 487.51 L244.28 487.53 L245.00 486.30 L244.28 485.07 L245.70 485.09ZM260.70 487.05 L261.40 488.29 L262.82 488.27 L262.10 489.50 L262.82 490.73 L261.40 490.71 L260.70 491.95 L260.00 490.71 L258.58 490.73 L259.30 489.50 L258.58 488.27 L260.00 488.29ZM276.90 490.25 L277.60 491.49 L279.02 491.47 L278.30 492.70 L279.02 493.93 L277.60 493.91 L276.90 495.15 L276.20 493.91 L274.78 493.93 L275.50 492.70 L274.78 491.47 L276.20 491.49ZM297.70 494.65 L298.40 495.89 L299.82 495.88 L299.10 497.10 L299.82 498.33 L298.40 498.31 L297.70 499.55 L297.00 498.31 L295.58 498.33 L296.30 497.10 L295.58 495.88 L297.00 495.89ZM316.70 495.55 L317.40 496.79 L318.82 496.77 L318.10 498.00 L318.82 499.23 L317.40 499.21 L316.70 500.45 L316.00 499.21 L314.58 499.23 L315.30 498.00 L314.58 496.77 L316.00 496.79ZM320.20 498.35 L320.90 499.59 L322.32 499.57 L321.60 500.80 L322.32 502.03 L320.90 502.01 L320.20 503.25 L319.50 502.01 L318.08 502.03 L318.80 500.80 L318.08 499.57 L319.50 499.59Z" fill="#fff" stroke="#3487c9" stroke-width="1.1" stroke-linejoin="miter"/>
<circle cx="83.40" cy="340.90" r="2.3" fill="#000000"/>
<circle cx="112.02" cy="360.73" r="2.3" fill="#000000"/>
<circle cx="128.91" cy="379.31" r="2.3" fill="#000000"/>
<circle cx="140.89" cy="395.59" r="2.3" fill="#000000"/>
<circle cx="150.19" cy="408.88" r="2.3" fill="#000000"/>
<circle cx="157.78" cy="420.88" r="2.3" fill="#000000"/>
<circle cx="164.20" cy="430.38" r="2.3" fill="#000000"/>
<circle cx="169.76" cy="437.58" r="2.3" fill="#000000"/>
<circle cx="174.67" cy="443.80" r="2.3" fill="#000000"/>
<circle cx="179.06" cy="448.90" r="2.3" fill="#000000"/>
<circle cx="183.03" cy="454.74" r="2.3" fill="#000000"/>
<circle cx="186.65" cy="459.80" r="2.3" fill="#000000"/>
<circle cx="189.98" cy="463.97" r="2.3" fill="#000000"/>
<circle cx="193.07" cy="466.49" r="2.3" fill="#000000"/>
<circle cx="195.94" cy="469.36" r="2.3" fill="#000000"/>
<circle cx="198.63" cy="472.08" r="2.3" fill="#000000"/>
<circle cx="201.16" cy="474.24" r="2.3" fill="#000000"/>
<circle cx="203.54" cy="475.84" r="2.3" fill="#000000"/>
<circle cx="205.79" cy="477.17" r="2.3" fill="#000000"/>
<circle cx="207.92" cy="478.34" r="2.3" fill="#000000"/>
<circle cx="209.96" cy="479.47" r="2.3" fill="#000000"/>
<circle cx="211.89" cy="480.53" r="2.3" fill="#000000"/>
<circle cx="213.75" cy="481.35" r="2.3" fill="#000000"/>
<circle cx="215.52" cy="481.82" r="2.3" fill="#000000"/>
<circle cx="217.22" cy="482.13" r="2.3" fill="#000000"/>
<circle cx="218.85" cy="482.60" r="2.3" fill="#000000"/>
<circle cx="220.42" cy="483.68" r="2.3" fill="#000000"/>
<circle cx="221.94" cy="485.08" r="2.3" fill="#000000"/>
<circle cx="223.40" cy="486.32" r="2.3" fill="#000000"/>
<circle cx="224.81" cy="487.47" r="2.3" fill="#000000"/>
<circle cx="226.18" cy="488.60" r="2.3" fill="#000000"/>
<circle cx="227.50" cy="489.65" r="2.3" fill="#000000"/>
<circle cx="228.78" cy="490.60" r="2.3" fill="#000000"/>
<circle cx="230.02" cy="491.41" r="2.3" fill="#000000"/>
<circle cx="231.23" cy="492.11" r="2.3" fill="#000000"/>
<circle cx="232.41" cy="492.72" r="2.3" fill="#000000"/>
<circle cx="233.55" cy="493.28" r="2.3" fill="#000000"/>
<circle cx="234.66" cy="493.79" r="2.3" fill="#000000"/>
<circle cx="235.74" cy="494.29" r="2.3" fill="#000000"/>
<circle cx="236.79" cy="494.77" r="2.3" fill="#000000"/>
<circle cx="237.82" cy="495.32" r="2.3" fill="#000000"/>
<circle cx="238.83" cy="495.89" r="2.3" fill="#000000"/>
<circle cx="239.81" cy="495.62" r="2.3" fill="#000000"/>
<circle cx="240.76" cy="496.36" r="2.3" fill="#000000"/>
<circle cx="241.70" cy="497.80" r="2.3" fill="#000000"/>
<circle cx="242.61" cy="498.07" r="2.3" fill="#000000"/>
<circle cx="243.51" cy="497.78" r="2.3" fill="#000000"/>
<circle cx="244.39" cy="498.49" r="2.3" fill="#000000"/>
<circle cx="245.25" cy="499.09" r="2.3" fill="#000000"/>
<circle cx="246.09" cy="498.35" r="2.3" fill="#000000"/>
<circle cx="246.91" cy="497.76" r="2.3" fill="#000000"/>
<circle cx="247.72" cy="498.33" r="2.3" fill="#000000"/>
<circle cx="248.51" cy="498.41" r="2.3" fill="#000000"/>
<circle cx="249.29" cy="497.51" r="2.3" fill="#000000"/>
<circle cx="250.06" cy="497.49" r="2.3" fill="#000000"/>
<circle cx="250.81" cy="498.41" r="2.3" fill="#000000"/>
<circle cx="251.54" cy="498.39" r="2.3" fill="#000000"/>
<circle cx="252.27" cy="497.79" r="2.3" fill="#000000"/>
<circle cx="252.98" cy="498.28" r="2.3" fill="#000000"/>
<circle cx="253.68" cy="498.94" r="2.3" fill="#000000"/>
<circle cx="254.37" cy="498.25" r="2.3" fill="#000000"/>
<circle cx="255.05" cy="497.48" r="2.3" fill="#000000"/>
<circle cx="255.71" cy="497.88" r="2.3" fill="#000000"/>
<circle cx="256.37" cy="497.91" r="2.3" fill="#000000"/>
<circle cx="257.01" cy="496.86" r="2.3" fill="#000000"/>
<circle cx="257.65" cy="496.54" r="2.3" fill="#000000"/>
<circle cx="258.28" cy="497.31" r="2.3" fill="#000000"/>
<circle cx="258.89" cy="497.32" r="2.3" fill="#000000"/>
<circle cx="259.50" cy="496.68" r="2.3" fill="#000000"/>
<circle cx="260.10" cy="497.14" r="2.3" fill="#000000"/>
<circle cx="260.69" cy="498.05" r="2.3" fill="#000000"/>
<circle cx="261.27" cy="497.67" r="2.3" fill="#000000"/>
<circle cx="261.85" cy="497.06" r="2.3" fill="#000000"/>
<circle cx="262.42" cy="497.61" r="2.3" fill="#000000"/>
<circle cx="262.97" cy="497.94" r="2.3" fill="#000000"/>
<circle cx="263.53" cy="497.06" r="2.3" fill="#000000"/>
<circle cx="264.07" cy="496.71" r="2.3" fill="#000000"/>
<circle cx="264.61" cy="497.51" r="2.3" fill="#000000"/>
<circle cx="265.14" cy="497.65" r="2.3" fill="#000000"/>
<circle cx="265.66" cy="496.99" r="2.3" fill="#000000"/>
<circle cx="266.18" cy="497.37" r="2.3" fill="#000000"/>
<circle cx="266.69" cy="498.39" r="2.3" fill="#000000"/>
<circle cx="267.20" cy="498.21" r="2.3" fill="#000000"/>
<circle cx="267.69" cy="497.63" r="2.3" fill="#000000"/>
<circle cx="268.19" cy="498.19" r="2.3" fill="#000000"/>
<circle cx="268.67" cy="498.69" r="2.3" fill="#000000"/>
<circle cx="269.16" cy="497.90" r="2.3" fill="#000000"/>
<circle cx="269.63" cy="497.42" r="2.3" fill="#000000"/>
<circle cx="270.10" cy="498.14" r="2.3" fill="#000000"/>
<circle cx="270.57" cy="498.34" r="2.3" fill="#000000"/>
<circle cx="271.03" cy="497.64" r="2.3" fill="#000000"/>
<circle cx="271.48" cy="497.87" r="2.3" fill="#000000"/>
<circle cx="271.93" cy="498.93" r="2.3" fill="#000000"/>
<circle cx="272.38" cy="498.93" r="2.3" fill="#000000"/>
<circle cx="272.82" cy="498.36" r="2.3" fill="#000000"/>
<circle cx="273.26" cy="498.90" r="2.3" fill="#000000"/>
<circle cx="273.69" cy="499.53" r="2.3" fill="#000000"/>
<circle cx="274.11" cy="498.84" r="2.3" fill="#000000"/>
<circle cx="274.54" cy="498.23" r="2.3" fill="#000000"/>
<circle cx="274.96" cy="498.83" r="2.3" fill="#000000"/>
<circle cx="275.37" cy="499.05" r="2.3" fill="#000000"/>
<circle cx="275.78" cy="498.26" r="2.3" fill="#000000"/>
<circle cx="276.19" cy="498.28" r="2.3" fill="#000000"/>
<circle cx="276.59" cy="499.29" r="2.3" fill="#000000"/>
<circle cx="276.99" cy="499.39" r="2.3" fill="#000000"/>
<circle cx="277.38" cy="498.80" r="2.3" fill="#000000"/>
<circle cx="277.77" cy="499.28" r="2.3" fill="#000000"/>
<circle cx="278.16" cy="500.06" r="2.3" fill="#000000"/>
<circle cx="278.55" cy="499.51" r="2.3" fill="#000000"/>
<circle cx="278.93" cy="498.83" r="2.3" fill="#000000"/>
<circle cx="279.30" cy="499.34" r="2.3" fill="#000000"/>
<circle cx="279.68" cy="499.61" r="2.3" fill="#000000"/>
<circle cx="280.05" cy="498.76" r="2.3" fill="#000000"/>
<circle cx="280.41" cy="498.55" r="2.3" fill="#000000"/>
<circle cx="280.78" cy="499.47" r="2.3" fill="#000000"/>
<circle cx="281.14" cy="499.64" r="2.3" fill="#000000"/>
<circle cx="281.49" cy="499.03" r="2.3" fill="#000000"/>
<circle cx="281.85" cy="499.42" r="2.3" fill="#000000"/>
<circle cx="282.20" cy="500.31" r="2.3" fill="#000000"/>
<circle cx="282.55" cy="499.92" r="2.3" fill="#000000"/>
<circle cx="282.90" cy="499.20" r="2.3" fill="#000000"/>
<circle cx="283.24" cy="499.63" r="2.3" fill="#000000"/>
<circle cx="283.58" cy="499.97" r="2.3" fill="#000000"/>
<circle cx="283.92" cy="499.11" r="2.3" fill="#000000"/>
<circle cx="284.25" cy="498.70" r="2.3" fill="#000000"/>
<circle cx="284.58" cy="499.49" r="2.3" fill="#000000"/>
<circle cx="284.91" cy="499.72" r="2.3" fill="#000000"/>
<circle cx="285.24" cy="499.06" r="2.3" fill="#000000"/>
<circle cx="285.56" cy="499.34" r="2.3" fill="#000000"/>
<circle cx="285.88" cy="500.31" r="2.3" fill="#000000"/>
<circle cx="286.20" cy="500.12" r="2.3" fill="#000000"/>
<circle cx="286.52" cy="499.40" r="2.3" fill="#000000"/>
<circle cx="286.83" cy="499.81" r="2.3" fill="#000000"/>
<circle cx="287.15" cy="500.26" r="2.3" fill="#000000"/>
<circle cx="287.45" cy="499.45" r="2.3" fill="#000000"/>
<circle cx="287.76" cy="498.88" r="2.3" fill="#000000"/>
<circle cx="288.07" cy="499.56" r="2.3" fill="#000000"/>
<circle cx="288.37" cy="499.83" r="2.3" fill="#000000"/>
<circle cx="288.67" cy="499.14" r="2.3" fill="#000000"/>
<circle cx="288.97" cy="499.30" r="2.3" fill="#000000"/>
<circle cx="289.27" cy="500.35" r="2.3" fill="#000000"/>
<circle cx="289.56" cy="500.37" r="2.3" fill="#000000"/>
<circle cx="289.85" cy="499.72" r="2.3" fill="#000000"/>
<circle cx="290.14" cy="500.13" r="2.3" fill="#000000"/>
<circle cx="290.43" cy="500.77" r="2.3" fill="#000000"/>
<circle cx="290.72" cy="500.10" r="2.3" fill="#000000"/>
<circle cx="291.00" cy="499.45" r="2.3" fill="#000000"/>
<circle cx="291.28" cy="500.06" r="2.3" fill="#000000"/>
<circle cx="291.56" cy="500.41" r="2.3" fill="#000000"/>
<circle cx="291.84" cy="499.71" r="2.3" fill="#000000"/>
<circle cx="292.12" cy="499.73" r="2.3" fill="#000000"/>
<circle cx="292.39" cy="500.79" r="2.3" fill="#000000"/>
<circle cx="292.67" cy="500.97" r="2.3" fill="#000000"/>
<circle cx="292.94" cy="500.36" r="2.3" fill="#000000"/>
<circle cx="293.21" cy="500.75" r="2.3" fill="#000000"/>
<circle cx="293.48" cy="501.51" r="2.3" fill="#000000"/>
<circle cx="293.74" cy="500.99" r="2.3" fill="#000000"/>
<circle cx="294.01" cy="500.24" r="2.3" fill="#000000"/>
<circle cx="294.27" cy="500.71" r="2.3" fill="#000000"/>
<circle cx="294.53" cy="501.07" r="2.3" fill="#000000"/>
<circle cx="294.79" cy="500.30" r="2.3" fill="#000000"/>
<circle cx="295.05" cy="500.08" r="2.3" fill="#000000"/>
<circle cx="295.30" cy="501.03" r="2.3" fill="#000000"/>
<circle cx="295.56" cy="501.28" r="2.3" fill="#000000"/>
<circle cx="295.81" cy="500.63" r="2.3" fill="#000000"/>
<circle cx="296.06" cy="500.91" r="2.3" fill="#000000"/>
<circle cx="296.31" cy="501.75" r="2.3" fill="#000000"/>
<circle cx="296.56" cy="501.35" r="2.3" fill="#000000"/>
<circle cx="296.81" cy="500.51" r="2.3" fill="#000000"/>
<circle cx="297.06" cy="500.85" r="2.3" fill="#000000"/>
<circle cx="297.30" cy="501.22" r="2.3" fill="#000000"/>
<circle cx="297.54" cy="500.40" r="2.3" fill="#000000"/>
<circle cx="297.78" cy="499.95" r="2.3" fill="#000000"/>
<circle cx="298.02" cy="500.76" r="2.3" fill="#000000"/>
<circle cx="298.26" cy="501.06" r="2.3" fill="#000000"/>
<circle cx="298.50" cy="500.39" r="2.3" fill="#000000"/>
<circle cx="298.74" cy="500.57" r="2.3" fill="#000000"/>
<circle cx="298.97" cy="501.48" r="2.3" fill="#000000"/>
<circle cx="299.20" cy="501.26" r="2.3" fill="#000000"/>
<circle cx="299.44" cy="500.42" r="2.3" fill="#000000"/>
<circle cx="299.67" cy="500.68" r="2.3" fill="#000000"/>
<circle cx="299.90" cy="501.12" r="2.3" fill="#000000"/>
<circle cx="300.12" cy="500.32" r="2.3" fill="#000000"/>
<circle cx="300.35" cy="499.68" r="2.3" fill="#000000"/>
<circle cx="300.58" cy="500.33" r="2.3" fill="#000000"/>
<circle cx="300.80" cy="500.67" r="2.3" fill="#000000"/>
<circle cx="301.03" cy="499.98" r="2.3" fill="#000000"/>
<circle cx="301.25" cy="500.02" r="2.3" fill="#000000"/>
<circle cx="301.47" cy="500.98" r="2.3" fill="#000000"/>
<circle cx="301.69" cy="500.95" r="2.3" fill="#000000"/>
<circle cx="301.91" cy="500.14" r="2.3" fill="#000000"/>
<circle cx="302.12" cy="500.35" r="2.3" fill="#000000"/>
<circle cx="302.34" cy="500.89" r="2.3" fill="#000000"/>
<circle cx="302.56" cy="500.16" r="2.3" fill="#000000"/>
<circle cx="302.77" cy="499.37" r="2.3" fill="#000000"/>
<circle cx="302.98" cy="499.88" r="2.3" fill="#000000"/>
<circle cx="303.20" cy="500.24" r="2.3" fill="#000000"/>
<circle cx="303.41" cy="499.50" r="2.3" fill="#000000"/>
<circle cx="303.62" cy="499.36" r="2.3" fill="#000000"/>
<circle cx="303.82" cy="500.28" r="2.3" fill="#000000"/>
<circle cx="304.03" cy="500.37" r="2.3" fill="#000000"/>
<circle cx="304.24" cy="499.56" r="2.3" fill="#000000"/>
<circle cx="304.44" cy="499.67" r="2.3" fill="#000000"/>
<circle cx="304.65" cy="500.26" r="2.3" fill="#000000"/>
<circle cx="304.85" cy="499.59" r="2.3" fill="#000000"/>
<circle cx="305.06" cy="498.63" r="2.3" fill="#000000"/>
<circle cx="305.26" cy="498.93" r="2.3" fill="#000000"/>
<circle cx="305.46" cy="499.23" r="2.3" fill="#000000"/>
<circle cx="305.66" cy="498.41" r="2.3" fill="#000000"/>
<circle cx="305.86" cy="498.05" r="2.3" fill="#000000"/>
<circle cx="306.05" cy="498.88" r="2.3" fill="#000000"/>
<circle cx="306.25" cy="499.09" r="2.3" fill="#000000"/>
<circle cx="306.45" cy="498.31" r="2.3" fill="#000000"/>
<circle cx="306.64" cy="498.38" r="2.3" fill="#000000"/>
<circle cx="306.84" cy="499.08" r="2.3" fill="#000000"/>
<circle cx="307.03" cy="498.61" r="2.3" fill="#000000"/>
<circle cx="307.22" cy="497.63" r="2.3" fill="#000000"/>
<circle cx="307.41" cy="497.84" r="2.3" fill="#000000"/>
<circle cx="307.60" cy="498.22" r="2.3" fill="#000000"/>
<circle cx="307.79" cy="497.44" r="2.3" fill="#000000"/>
<circle cx="307.98" cy="496.95" r="2.3" fill="#000000"/>
<circle cx="308.17" cy="497.76" r="2.3" fill="#000000"/>
<circle cx="308.36" cy="498.14" r="2.3" fill="#000000"/>
<circle cx="308.54" cy="497.49" r="2.3" fill="#000000"/>
<circle cx="308.73" cy="497.58" r="2.3" fill="#000000"/>
<circle cx="308.91" cy="498.49" r="2.3" fill="#000000"/>
<circle cx="309.10" cy="498.32" r="2.3" fill="#000000"/>
<circle cx="309.28" cy="497.47" r="2.3" fill="#000000"/>
<circle cx="309.46" cy="497.71" r="2.3" fill="#000000"/>
<circle cx="309.65" cy="498.28" r="2.3" fill="#000000"/>
<circle cx="309.83" cy="497.66" r="2.3" fill="#000000"/>
<circle cx="310.01" cy="497.12" r="2.3" fill="#000000"/>
<circle cx="310.19" cy="497.92" r="2.3" fill="#000000"/>
<circle cx="310.36" cy="498.51" r="2.3" fill="#000000"/>
<circle cx="310.54" cy="498.00" r="2.3" fill="#000000"/>
<circle cx="310.72" cy="498.14" r="2.3" fill="#000000"/>
<circle cx="310.89" cy="499.22" r="2.3" fill="#000000"/>
<circle cx="311.07" cy="499.37" r="2.3" fill="#000000"/>
<circle cx="311.24" cy="498.66" r="2.3" fill="#000000"/>
<circle cx="311.42" cy="498.93" r="2.3" fill="#000000"/>
<circle cx="311.59" cy="499.64" r="2.3" fill="#000000"/>
<circle cx="311.76" cy="499.16" r="2.3" fill="#000000"/>
<circle cx="311.94" cy="498.53" r="2.3" fill="#000000"/>
<circle cx="312.11" cy="499.23" r="2.3" fill="#000000"/>
<circle cx="312.28" cy="499.88" r="2.3" fill="#000000"/>
<circle cx="312.45" cy="499.41" r="2.3" fill="#000000"/>
<circle cx="312.62" cy="499.44" r="2.3" fill="#000000"/>
<circle cx="312.78" cy="500.56" r="2.3" fill="#000000"/>
<circle cx="312.95" cy="500.91" r="2.3" fill="#000000"/>
<circle cx="313.12" cy="500.27" r="2.3" fill="#000000"/>
<circle cx="313.28" cy="500.49" r="2.3" fill="#000000"/>
<circle cx="313.45" cy="501.27" r="2.3" fill="#000000"/>
<circle cx="313.62" cy="500.87" r="2.3" fill="#000000"/>
<circle cx="313.78" cy="500.10" r="2.3" fill="#000000"/>
<circle cx="313.94" cy="500.60" r="2.3" fill="#000000"/>
<circle cx="314.11" cy="501.24" r="2.3" fill="#000000"/>
<circle cx="314.27" cy="500.75" r="2.3" fill="#000000"/>
<circle cx="314.43" cy="500.62" r="2.3" fill="#000000"/>
<circle cx="314.59" cy="501.70" r="2.3" fill="#000000"/>
<circle cx="314.75" cy="502.21" r="2.3" fill="#000000"/>
<circle cx="314.91" cy="501.65" r="2.3" fill="#000000"/>
<circle cx="315.07" cy="501.82" r="2.3" fill="#000000"/>
<circle cx="315.23" cy="502.70" r="2.3" fill="#000000"/>
<circle cx="315.39" cy="502.44" r="2.3" fill="#000000"/>
<circle cx="315.55" cy="501.59" r="2.3" fill="#000000"/>
<circle cx="315.70" cy="501.91" r="2.3" fill="#000000"/>
<circle cx="315.86" cy="502.50" r="2.3" fill="#000000"/>
<circle cx="316.01" cy="501.91" r="2.3" fill="#000000"/>
<circle cx="316.17" cy="501.48" r="2.3" fill="#000000"/>
<circle cx="316.32" cy="502.32" r="2.3" fill="#000000"/>
<circle cx="316.48" cy="502.79" r="2.3" fill="#000000"/>
<circle cx="316.63" cy="502.12" r="2.3" fill="#000000"/>
<circle cx="316.78" cy="502.07" r="2.3" fill="#000000"/>
<circle cx="316.94" cy="502.85" r="2.3" fill="#000000"/>
<circle cx="317.09" cy="502.60" r="2.3" fill="#000000"/>
<circle cx="317.24" cy="501.57" r="2.3" fill="#000000"/>
<circle cx="317.39" cy="501.60" r="2.3" fill="#000000"/>
<circle cx="317.54" cy="502.05" r="2.3" fill="#000000"/>
<circle cx="317.69" cy="501.35" r="2.3" fill="#000000"/>
<circle cx="317.84" cy="500.62" r="2.3" fill="#000000"/>
<circle cx="317.99" cy="501.23" r="2.3" fill="#000000"/>
<circle cx="318.13" cy="501.69" r="2.3" fill="#000000"/>
<circle cx="318.28" cy="501.00" r="2.3" fill="#000000"/>
<circle cx="318.43" cy="500.81" r="2.3" fill="#000000"/>
<circle cx="318.58" cy="501.60" r="2.3" fill="#000000"/>
<circle cx="318.72" cy="501.50" r="2.3" fill="#000000"/>
<circle cx="318.87" cy="500.47" r="2.3" fill="#000000"/>
<circle cx="319.01" cy="500.39" r="2.3" fill="#000000"/>
<circle cx="319.16" cy="500.86" r="2.3" fill="#000000"/>
<circle cx="319.30" cy="500.19" r="2.3" fill="#000000"/>
<circle cx="319.44" cy="499.31" r="2.3" fill="#000000"/>
<circle cx="319.59" cy="499.76" r="2.3" fill="#000000"/>
<circle cx="319.73" cy="500.28" r="2.3" fill="#000000"/>
<circle cx="319.87" cy="499.64" r="2.3" fill="#000000"/>
<circle cx="320.01" cy="499.39" r="2.3" fill="#000000"/>
<circle cx="320.15" cy="500.25" r="2.3" fill="#000000"/>
<circle cx="320.29" cy="500.41" r="2.3" fill="#000000"/>
<circle cx="320.43" cy="499.52" r="2.3" fill="#000000"/>
<circle cx="320.57" cy="499.43" r="2.3" fill="#000000"/>
<circle cx="320.71" cy="500.03" r="2.3" fill="#000000"/>
<circle cx="320.85" cy="499.54" r="2.3" fill="#000000"/>
<circle cx="320.99" cy="498.62" r="2.3" fill="#000000"/>
<circle cx="321.13" cy="498.99" r="2.3" fill="#000000"/>
<circle cx="321.26" cy="499.62" r="2.3" fill="#000000"/>
<circle cx="321.40" cy="499.10" r="2.3" fill="#000000"/>
<circle cx="321.54" cy="498.81" r="2.3" fill="#000000"/>
<circle cx="321.67" cy="499.73" r="2.3" fill="#000000"/>
<circle cx="321.81" cy="500.15" r="2.3" fill="#000000"/>
<circle cx="321.94" cy="499.41" r="2.3" fill="#000000"/>
<circle cx="322.08" cy="499.34" r="2.3" fill="#000000"/>
<circle cx="322.21" cy="500.05" r="2.3" fill="#000000"/>
<circle cx="322.35" cy="499.73" r="2.3" fill="#000000"/>
<circle cx="322.48" cy="498.76" r="2.3" fill="#000000"/>
<circle cx="322.61" cy="498.98" r="2.3" fill="#000000"/>
<circle cx="322.74" cy="499.60" r="2.3" fill="#000000"/>
<circle cx="322.88" cy="499.09" r="2.3" fill="#000000"/>
<circle cx="323.01" cy="498.65" r="2.3" fill="#000000"/>
<circle cx="323.14" cy="499.50" r="2.3" fill="#000000"/>
<circle cx="323.27" cy="500.06" r="2.3" fill="#000000"/>
<circle cx="323.40" cy="499.42" r="2.3" fill="#000000"/>
<circle cx="323.53" cy="499.31" r="2.3" fill="#000000"/>
<circle cx="323.66" cy="500.10" r="2.3" fill="#000000"/>
<circle cx="323.79" cy="499.94" r="2.3" fill="#000000"/>
<circle cx="323.92" cy="498.95" r="2.3" fill="#000000"/>
<circle cx="324.05" cy="499.02" r="2.3" fill="#000000"/>
<circle cx="324.17" cy="499.63" r="2.3" fill="#000000"/>
<circle cx="324.30" cy="499.14" r="2.3" fill="#000000"/>
<circle cx="324.43" cy="498.54" r="2.3" fill="#000000"/>
<circle cx="324.56" cy="499.27" r="2.3" fill="#000000"/>
<circle cx="324.68" cy="499.93" r="2.3" fill="#000000"/>
<circle cx="324.81" cy="499.38" r="2.3" fill="#000000"/>
<circle cx="324.90" cy="499.21" r="2.3" fill="#000000"/>
<circle cx="324.90" cy="500.07" r="2.3" fill="#000000"/>
<path d="M80.50 394.90 L109.90 423.90 L128.10 437.90 L139.50 448.70 L148.50 453.60 L156.00 459.00 L164.40 463.40 L174.30 468.60 L187.10 473.10 L201.00 479.30 L214.20 486.30 L230.50 490.00 L246.50 493.80 L263.90 496.80 L290.90 500.00 L318.80 501.50" fill="none" stroke="#6cc6f2" stroke-width="0.85" />
<path d="M80.50 392.45 L81.20 393.69 L82.62 393.67 L81.90 394.90 L82.62 396.12 L81.20 396.11 L80.50 397.35 L79.80 396.11 L78.38 396.12 L79.10 394.90 L78.38 393.67 L79.80 393.69Z" fill="#fff" stroke="#3487c9" stroke-width="1.1"/>
<path d="M109.90 421.45 L110.60 422.69 L112.02 422.67 L111.30 423.90 L112.02 425.12 L110.60 425.11 L109.90 426.35 L109.20 425.11 L107.78 425.12 L108.50 423.90 L107.78 422.67 L109.20 422.69Z" fill="#fff" stroke="#6cc6f2" stroke-width="1.1"/>
<path d="M128.10 435.45 L128.80 436.69 L130.22 436.67 L129.50 437.90 L130.22 439.12 L128.80 439.11 L128.10 440.35 L127.40 439.11 L125.98 439.12 L126.70 437.90 L125.98 436.67 L127.40 436.69Z" fill="#fff" stroke="#6cc6f2" stroke-width="1.1"/>
<path d="M139.50 446.25 L140.20 447.49 L141.62 447.47 L140.90 448.70 L141.62 449.93 L140.20 449.91 L139.50 451.15 L138.80 449.91 L137.38 449.93 L138.10 448.70 L137.38 447.47 L138.80 447.49Z" fill="#fff" stroke="#3487c9" stroke-width="1.1"/>
<path d="M148.50 451.15 L149.20 452.39 L150.62 452.38 L149.90 453.60 L150.62 454.83 L149.20 454.81 L148.50 456.05 L147.80 454.81 L146.38 454.83 L147.10 453.60 L146.38 452.38 L147.80 452.39Z" fill="#fff" stroke="#6cc6f2" stroke-width="1.1"/>
<path d="M156.00 456.55 L156.70 457.79 L158.12 457.77 L157.40 459.00 L158.12 460.23 L156.70 460.21 L156.00 461.45 L155.30 460.21 L153.88 460.23 L154.60 459.00 L153.88 457.77 L155.30 457.79Z" fill="#fff" stroke="#3487c9" stroke-width="1.1"/>
<path d="M164.40 460.95 L165.10 462.19 L166.52 462.17 L165.80 463.40 L166.52 464.62 L165.10 464.61 L164.40 465.85 L163.70 464.61 L162.28 464.62 L163.00 463.40 L162.28 462.17 L163.70 462.19Z" fill="#fff" stroke="#6cc6f2" stroke-width="1.1"/>
<path d="M174.30 466.15 L175.00 467.39 L176.42 467.38 L175.70 468.60 L176.42 469.83 L175.00 469.81 L174.30 471.05 L173.60 469.81 L172.18 469.83 L172.90 468.60 L172.18 467.38 L173.60 467.39Z" fill="#fff" stroke="#6cc6f2" stroke-width="1.1"/>
<path d="M187.10 470.65 L187.80 471.89 L189.22 471.88 L188.50 473.10 L189.22 474.33 L187.80 474.31 L187.10 475.55 L186.40 474.31 L184.98 474.33 L185.70 473.10 L184.98 471.88 L186.40 471.89Z" fill="#fff" stroke="#6cc6f2" stroke-width="1.1"/>
<path d="M201.00 476.85 L201.70 478.09 L203.12 478.07 L202.40 479.30 L203.12 480.53 L201.70 480.51 L201.00 481.75 L200.30 480.51 L198.88 480.53 L199.60 479.30 L198.88 478.07 L200.30 478.09Z" fill="#fff" stroke="#6cc6f2" stroke-width="1.1"/>
<path d="M214.20 483.85 L214.90 485.09 L216.32 485.07 L215.60 486.30 L216.32 487.53 L214.90 487.51 L214.20 488.75 L213.50 487.51 L212.08 487.53 L212.80 486.30 L212.08 485.07 L213.50 485.09Z" fill="#fff" stroke="#6cc6f2" stroke-width="1.1"/>
<path d="M230.50 487.55 L231.20 488.79 L232.62 488.77 L231.90 490.00 L232.62 491.23 L231.20 491.21 L230.50 492.45 L229.80 491.21 L228.38 491.23 L229.10 490.00 L228.38 488.77 L229.80 488.79Z" fill="#fff" stroke="#6cc6f2" stroke-width="1.1"/>
<path d="M246.50 491.35 L247.20 492.59 L248.62 492.57 L247.90 493.80 L248.62 495.03 L247.20 495.01 L246.50 496.25 L245.80 495.01 L244.38 495.03 L245.10 493.80 L244.38 492.57 L245.80 492.59Z" fill="#fff" stroke="#6cc6f2" stroke-width="1.1"/>
<path d="M263.90 494.35 L264.60 495.59 L266.02 495.57 L265.30 496.80 L266.02 498.03 L264.60 498.01 L263.90 499.25 L263.20 498.01 L261.78 498.03 L262.50 496.80 L261.78 495.57 L263.20 495.59Z" fill="#fff" stroke="#6cc6f2" stroke-width="1.1"/>
<path d="M290.90 497.55 L291.60 498.79 L293.02 498.77 L292.30 500.00 L293.02 501.23 L291.60 501.21 L290.90 502.45 L290.20 501.21 L288.78 501.23 L289.50 500.00 L288.78 498.77 L290.20 498.79Z" fill="#fff" stroke="#6cc6f2" stroke-width="1.1"/>
<path d="M318.80 499.05 L319.50 500.29 L320.92 500.27 L320.20 501.50 L320.92 502.73 L319.50 502.71 L318.80 503.95 L318.10 502.71 L316.68 502.73 L317.40 501.50 L316.68 500.27 L318.10 500.29Z" fill="#fff" stroke="#6cc6f2" stroke-width="1.1"/>
<text x="34.0" y="290.70" text-anchor="end" font-size="10.67" fill="#282828">1</text>
<text x="34.0" y="332.90" text-anchor="end" font-size="10.67" fill="#282828">0.8</text>
<text x="34.0" y="375.10" text-anchor="end" font-size="10.67" fill="#282828">0.6</text>
<text x="34.0" y="417.30" text-anchor="end" font-size="10.67" fill="#282828">0.4</text>
<text x="34.0" y="459.50" text-anchor="end" font-size="10.67" fill="#282828">0.2</text>
<text x="34.0" y="501.40" text-anchor="end" font-size="10.67" fill="#282828">0</text>
<text x="133.60000000000002" y="539.10" text-anchor="middle" font-size="10.67" fill="#282828">10<tspan dy="-4.3" font-size="9.3">-5</tspan></text>
<text x="229.9" y="539.10" text-anchor="middle" font-size="10.67" fill="#282828">10<tspan dy="-4.3" font-size="9.3">-4</tspan></text>
<text x="325.6" y="539.10" text-anchor="middle" font-size="10.67" fill="#282828">10<tspan dy="-4.3" font-size="9.3">-3</tspan></text>
<rect x="389.7" y="288.4" width="283.70" height="231.90" fill="none" stroke="#000" stroke-opacity="0.31" stroke-width="1.1"/>
<path d="M503.9 520.8499999999999 v-3.75M503.9 287.84999999999997 v3.75M389.15 299.2 h3.75M673.9499999999999 299.2 h-3.75M389.15 330.9 h3.75M673.9499999999999 330.9 h-3.75M389.15 362.5 h3.75M673.9499999999999 362.5 h-3.75M389.15 394.1 h3.75M673.9499999999999 394.1 h-3.75M389.15 425.7 h3.75M673.9499999999999 425.7 h-3.75M389.15 457.3 h3.75M673.9499999999999 457.3 h-3.75M389.15 488.9 h3.75M673.9499999999999 488.9 h-3.75" stroke="#000" stroke-opacity="0.27" stroke-width="1" fill="none"/>
<path d="M393.80 317.20 L444.10 366.80 L474.00 411.40 L495.60 441.20 L512.20 459.90 L525.40 470.70 L537.50 475.60 L547.20 479.50 L555.30 483.20 L569.90 487.30 L576.90 488.80 L582.50 491.10 L588.00 491.40 L593.00 493.50 L598.60 493.80 L604.30 494.50 L607.00 494.50 L615.00 496.00 L624.00 496.80 L639.20 495.40 L645.10 495.40" fill="none" stroke="#3487c9" stroke-width="1.0" />
<path d="M393.80 314.95 L394.40 316.16 L395.75 316.07 L395.00 317.20 L395.75 318.32 L394.40 318.24 L393.80 319.45 L393.20 318.24 L391.85 318.32 L392.60 317.20 L391.85 316.07 L393.20 316.16ZM444.10 364.55 L444.70 365.76 L446.05 365.68 L445.30 366.80 L446.05 367.93 L444.70 367.84 L444.10 369.05 L443.50 367.84 L442.15 367.93 L442.90 366.80 L442.15 365.68 L443.50 365.76ZM474.00 409.15 L474.60 410.36 L475.95 410.27 L475.20 411.40 L475.95 412.52 L474.60 412.44 L474.00 413.65 L473.40 412.44 L472.05 412.52 L472.80 411.40 L472.05 410.27 L473.40 410.36ZM495.60 438.95 L496.20 440.16 L497.55 440.07 L496.80 441.20 L497.55 442.32 L496.20 442.24 L495.60 443.45 L495.00 442.24 L493.65 442.32 L494.40 441.20 L493.65 440.07 L495.00 440.16ZM512.20 457.65 L512.80 458.86 L514.15 458.77 L513.40 459.90 L514.15 461.02 L512.80 460.94 L512.20 462.15 L511.60 460.94 L510.25 461.02 L511.00 459.90 L510.25 458.77 L511.60 458.86ZM525.40 468.45 L526.00 469.66 L527.35 469.57 L526.60 470.70 L527.35 471.82 L526.00 471.74 L525.40 472.95 L524.80 471.74 L523.45 471.82 L524.20 470.70 L523.45 469.57 L524.80 469.66ZM537.50 473.35 L538.10 474.56 L539.45 474.48 L538.70 475.60 L539.45 476.73 L538.10 476.64 L537.50 477.85 L536.90 476.64 L535.55 476.73 L536.30 475.60 L535.55 474.48 L536.90 474.56ZM547.20 477.25 L547.80 478.46 L549.15 478.38 L548.40 479.50 L549.15 480.62 L547.80 480.54 L547.20 481.75 L546.60 480.54 L545.25 480.62 L546.00 479.50 L545.25 478.38 L546.60 478.46ZM555.30 480.95 L555.90 482.16 L557.25 482.07 L556.50 483.20 L557.25 484.32 L555.90 484.24 L555.30 485.45 L554.70 484.24 L553.35 484.32 L554.10 483.20 L553.35 482.07 L554.70 482.16ZM569.90 485.05 L570.50 486.26 L571.85 486.18 L571.10 487.30 L571.85 488.43 L570.50 488.34 L569.90 489.55 L569.30 488.34 L567.95 488.43 L568.70 487.30 L567.95 486.18 L569.30 486.26ZM576.90 486.55 L577.50 487.76 L578.85 487.68 L578.10 488.80 L578.85 489.93 L577.50 489.84 L576.90 491.05 L576.30 489.84 L574.95 489.93 L575.70 488.80 L574.95 487.68 L576.30 487.76ZM582.50 488.85 L583.10 490.06 L584.45 489.98 L583.70 491.10 L584.45 492.23 L583.10 492.14 L582.50 493.35 L581.90 492.14 L580.55 492.23 L581.30 491.10 L580.55 489.98 L581.90 490.06ZM588.00 489.15 L588.60 490.36 L589.95 490.27 L589.20 491.40 L589.95 492.52 L588.60 492.44 L588.00 493.65 L587.40 492.44 L586.05 492.52 L586.80 491.40 L586.05 490.27 L587.40 490.36ZM593.00 491.25 L593.60 492.46 L594.95 492.38 L594.20 493.50 L594.95 494.62 L593.60 494.54 L593.00 495.75 L592.40 494.54 L591.05 494.62 L591.80 493.50 L591.05 492.38 L592.40 492.46ZM598.60 491.55 L599.20 492.76 L600.55 492.68 L599.80 493.80 L600.55 494.93 L599.20 494.84 L598.60 496.05 L598.00 494.84 L596.65 494.93 L597.40 493.80 L596.65 492.68 L598.00 492.76ZM604.30 492.25 L604.90 493.46 L606.25 493.38 L605.50 494.50 L606.25 495.62 L604.90 495.54 L604.30 496.75 L603.70 495.54 L602.35 495.62 L603.10 494.50 L602.35 493.38 L603.70 493.46ZM607.00 492.25 L607.60 493.46 L608.95 493.38 L608.20 494.50 L608.95 495.62 L607.60 495.54 L607.00 496.75 L606.40 495.54 L605.05 495.62 L605.80 494.50 L605.05 493.38 L606.40 493.46ZM615.00 493.75 L615.60 494.96 L616.95 494.88 L616.20 496.00 L616.95 497.12 L615.60 497.04 L615.00 498.25 L614.40 497.04 L613.05 497.12 L613.80 496.00 L613.05 494.88 L614.40 494.96ZM624.00 494.55 L624.60 495.76 L625.95 495.68 L625.20 496.80 L625.95 497.93 L624.60 497.84 L624.00 499.05 L623.40 497.84 L622.05 497.93 L622.80 496.80 L622.05 495.68 L623.40 495.76ZM639.20 493.15 L639.80 494.36 L641.15 494.27 L640.40 495.40 L641.15 496.52 L639.80 496.44 L639.20 497.65 L638.60 496.44 L637.25 496.52 L638.00 495.40 L637.25 494.27 L638.60 494.36ZM645.10 493.15 L645.70 494.36 L647.05 494.27 L646.30 495.40 L647.05 496.52 L645.70 496.44 L645.10 497.65 L644.50 496.44 L643.15 496.52 L643.90 495.40 L643.15 494.27 L644.50 494.36Z" fill="#fff" stroke="#3487c9" stroke-width="1.15" stroke-linejoin="miter"/>
<circle cx="414.77" cy="314.30" r="1.8" fill="#000000"/>
<circle cx="465.82" cy="387.08" r="1.8" fill="#000000"/>
<circle cx="495.69" cy="429.89" r="1.8" fill="#000000"/>
<circle cx="516.88" cy="455.48" r="1.8" fill="#000000"/>
<circle cx="533.32" cy="471.13" r="1.8" fill="#000000"/>
<circle cx="546.74" cy="482.19" r="1.8" fill="#000000"/>
<circle cx="558.10" cy="489.24" r="1.8" fill="#000000"/>
<circle cx="567.93" cy="494.21" r="1.8" fill="#000000"/>
<circle cx="576.61" cy="496.37" r="1.8" fill="#000000"/>
<circle cx="584.37" cy="496.90" r="1.8" fill="#000000"/>
<circle cx="591.39" cy="496.21" r="1.8" fill="#000000"/>
<circle cx="597.80" cy="495.50" r="1.8" fill="#000000"/>
<circle cx="603.69" cy="495.77" r="1.8" fill="#000000"/>
<circle cx="609.15" cy="496.18" r="1.8" fill="#000000"/>
<circle cx="614.23" cy="496.66" r="1.8" fill="#000000"/>
<circle cx="618.99" cy="497.30" r="1.8" fill="#000000"/>
<circle cx="623.45" cy="497.21" r="1.8" fill="#000000"/>
<circle cx="627.66" cy="496.68" r="1.8" fill="#000000"/>
<circle cx="631.65" cy="495.72" r="1.8" fill="#000000"/>
<circle cx="635.42" cy="493.80" r="1.8" fill="#000000"/>
<circle cx="639.02" cy="491.97" r="1.8" fill="#000000"/>
<circle cx="642.44" cy="490.87" r="1.8" fill="#000000"/>
<circle cx="645.72" cy="490.20" r="1.8" fill="#000000"/>
<circle cx="648.85" cy="490.45" r="1.8" fill="#000000"/>
<circle cx="651.86" cy="491.06" r="1.8" fill="#000000"/>
<circle cx="654.75" cy="492.46" r="1.8" fill="#000000"/>
<circle cx="657.53" cy="493.13" r="1.8" fill="#000000"/>
<circle cx="660.21" cy="493.24" r="1.8" fill="#000000"/>
<circle cx="662.79" cy="492.73" r="1.8" fill="#000000"/>
<circle cx="665.29" cy="492.28" r="1.8" fill="#000000"/>
<circle cx="667.70" cy="491.93" r="1.8" fill="#000000"/>
<circle cx="670.04" cy="492.09" r="1.8" fill="#000000"/>
<circle cx="672.31" cy="492.87" r="1.8" fill="#000000"/>
<path d="M409.80 411.10 L460.90 459.10 L491.50 470.80 L528.50 480.50 L565.50 489.60 L590.40 490.00 L616.40 491.30 L641.30 490.80 L661.40 491.60" fill="none" stroke="#6cc6f2" stroke-width="1.0" />
<path d="M409.80 408.65 L410.50 409.89 L411.92 409.88 L411.20 411.10 L411.92 412.33 L410.50 412.31 L409.80 413.55 L409.10 412.31 L407.68 412.33 L408.40 411.10 L407.68 409.88 L409.10 409.89ZM460.90 456.65 L461.60 457.89 L463.02 457.88 L462.30 459.10 L463.02 460.33 L461.60 460.31 L460.90 461.55 L460.20 460.31 L458.78 460.33 L459.50 459.10 L458.78 457.88 L460.20 457.89ZM491.50 468.35 L492.20 469.59 L493.62 469.57 L492.90 470.80 L493.62 472.03 L492.20 472.01 L491.50 473.25 L490.80 472.01 L489.38 472.03 L490.10 470.80 L489.38 469.57 L490.80 469.59ZM528.50 478.05 L529.20 479.29 L530.62 479.27 L529.90 480.50 L530.62 481.73 L529.20 481.71 L528.50 482.95 L527.80 481.71 L526.38 481.73 L527.10 480.50 L526.38 479.27 L527.80 479.29ZM565.50 487.15 L566.20 488.39 L567.62 488.38 L566.90 489.60 L567.62 490.83 L566.20 490.81 L565.50 492.05 L564.80 490.81 L563.38 490.83 L564.10 489.60 L563.38 488.38 L564.80 488.39ZM590.40 487.55 L591.10 488.79 L592.52 488.77 L591.80 490.00 L592.52 491.23 L591.10 491.21 L590.40 492.45 L589.70 491.21 L588.28 491.23 L589.00 490.00 L588.28 488.77 L589.70 488.79ZM616.40 488.85 L617.10 490.09 L618.52 490.07 L617.80 491.30 L618.52 492.53 L617.10 492.51 L616.40 493.75 L615.70 492.51 L614.28 492.53 L615.00 491.30 L614.28 490.07 L615.70 490.09ZM641.30 488.35 L642.00 489.59 L643.42 489.57 L642.70 490.80 L643.42 492.03 L642.00 492.01 L641.30 493.25 L640.60 492.01 L639.18 492.03 L639.90 490.80 L639.18 489.57 L640.60 489.59ZM661.40 489.15 L662.10 490.39 L663.52 490.38 L662.80 491.60 L663.52 492.83 L662.10 492.81 L661.40 494.05 L660.70 492.81 L659.28 492.83 L660.00 491.60 L659.28 490.38 L660.70 490.39Z" fill="#fff" stroke="#6cc6f2" stroke-width="1.1" stroke-linejoin="miter"/>
<text x="386.3" y="303.80" text-anchor="end" font-size="10.67" fill="#282828">0.6</text>
<text x="386.3" y="335.40" text-anchor="end" font-size="10.67" fill="#282828">0.5</text>
<text x="386.3" y="367.00" text-anchor="end" font-size="10.67" fill="#282828">0.4</text>
<text x="386.3" y="398.60" text-anchor="end" font-size="10.67" fill="#282828">0.3</text>
<text x="386.3" y="430.20" text-anchor="end" font-size="10.67" fill="#282828">0.2</text>
<text x="386.3" y="461.80" text-anchor="end" font-size="10.67" fill="#282828">0.1</text>
<text x="386.3" y="493.40" text-anchor="end" font-size="10.67" fill="#282828">0</text>
<text x="386.3" y="524.80" text-anchor="end" font-size="10.67" fill="#282828">-0.1</text>
<text x="504.2" y="538.50" text-anchor="middle" font-size="10.67" fill="#282828">10<tspan dy="-4.3" font-size="9.3">-5</tspan></text>
<text x="673.8" y="538.50" text-anchor="middle" font-size="10.67" fill="#282828">10<tspan dy="-4.3" font-size="9.3">-4</tspan></text>
<text transform="translate(9.9 146.6) rotate(-90)" font-size="12.5" fill="#282828">C<tspan dy="5.8" font-size="9.8">xt</tspan><tspan dy="-5.8">(</tspan><tspan font-family="Liberation Serif, serif" font-style="italic">δ</tspan>x)</text>
<text transform="translate(9.9 425.1) rotate(-90)" font-size="12.5" fill="#282828">C<tspan dy="5.8" font-size="9.8">xa</tspan><tspan dy="-5.8">(</tspan><tspan font-family="Liberation Serif, serif" font-style="italic">δ</tspan>x)</text>
<text transform="translate(357.3 426.8) rotate(-90)" font-size="12.5" fill="#282828">C<tspan dy="5.8" font-size="9.8">ax</tspan><tspan dy="-5.8">(</tspan><tspan font-family="Liberation Serif, serif" font-style="italic">δ</tspan>a)</text>
<text transform="translate(363.4 177.2) rotate(-90)" font-size="12.5" fill="#282828">C<tspan dy="5.8" font-size="9.8">tx</tspan><tspan dy="-5.8">(</tspan><tspan font-family="Liberation Serif, serif" font-style="italic">δ</tspan>t) (a<tspan dy="-1.5" font-size="9.8">*</tspan><tspan dy="1.5">/V)</tspan><tspan dx="1.2" dy="-5.8" font-size="6.5">γ</tspan><tspan dy="1.5" font-size="5.5">1</tspan><tspan dx="0.8" dy="4.3"> / A</tspan></text>
<rect x="351.6" y="112.70" width="1" height="8.30" fill="#282828"/>
<text x="175.5" y="272" font-size="12.5" fill="#282828" xml:space="preserve"><tspan font-family="Liberation Serif, serif" font-style="italic">δ</tspan>x  (m)</text>
<text x="174" y="547" font-size="12.5" fill="#282828" xml:space="preserve"><tspan font-family="Liberation Serif, serif" font-style="italic">δ</tspan>x  (m)</text>
<text x="517" y="547" font-size="12.5" fill="#282828" xml:space="preserve"><tspan font-family="Liberation Serif, serif" font-style="italic">δ</tspan>a  (m)</text>
<text x="475.5" y="272.5" font-size="12.5" fill="#282828" xml:space="preserve"><tspan font-family="Liberation Serif, serif" font-style="italic">δ</tspan>t <tspan font-size="13.5">V</tspan><tspan dx="-0.9"> / a</tspan><tspan dy="-1" dx="0.5" font-size="11">*</tspan></text>
<rect x="486.4" y="262.0" width="11.8" height="1.3" fill="#282828"/>
<text x="49.0" y="235.1" font-size="13.6" font-weight="bold" fill="#1a1a22">(a)</text>
<text x="399.0" y="234.4" font-size="13.6" font-weight="bold" fill="#1a1a22">(b)</text>
<text x="50.7" y="508.9" font-size="13.6" font-weight="bold" fill="#1a1a22">(c)</text>
<text x="406.0" y="507.8" font-size="13.6" font-weight="bold" fill="#1a1a22">(d)</text>
</svg>
</body></html>
